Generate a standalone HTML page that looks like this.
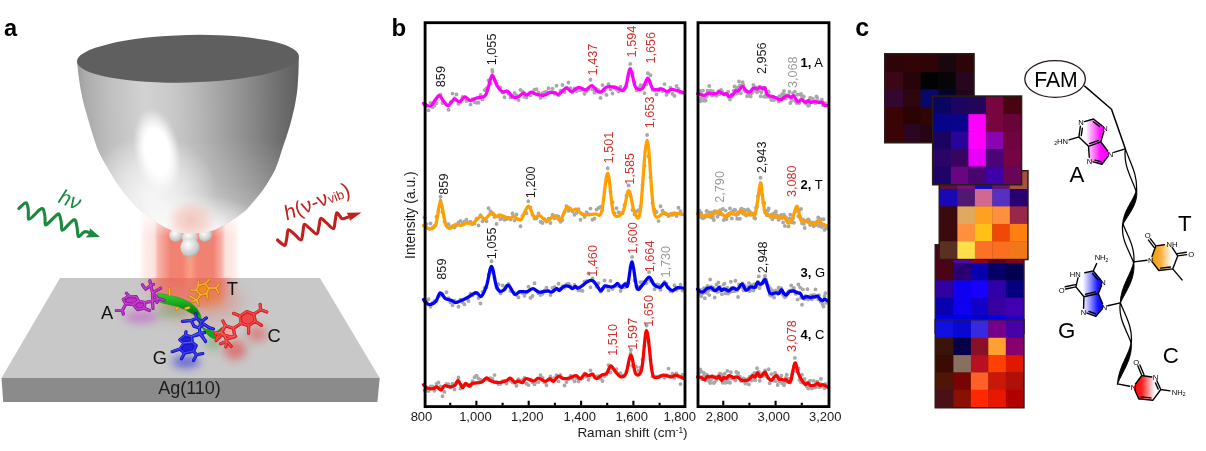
<!DOCTYPE html>
<html lang="en">
<head>
<meta charset="utf-8">
<title>Figure</title>
<style>
html,body{margin:0;padding:0;background:#fff;}
body{width:1206px;height:451px;overflow:hidden;font-family:"Liberation Sans",Arial,sans-serif;}
svg{display:block;}
</style>
</head>
<body>
<svg width="1206" height="451" viewBox="0 0 1206 451" font-family="'Liberation Sans', Arial, sans-serif">
<rect width="1206" height="451" fill="#fff"/>
<defs>
<linearGradient id="tipH" x1="0" y1="0" x2="1" y2="0">
<stop offset="0" stop-color="#9c9c9c"/><stop offset="0.04" stop-color="#acacac"/><stop offset="0.15" stop-color="#c0c0c0"/><stop offset="0.3" stop-color="#d2d2d2"/><stop offset="0.42" stop-color="#cacaca"/><stop offset="0.55" stop-color="#b6b6b6"/><stop offset="0.75" stop-color="#909090"/><stop offset="0.92" stop-color="#6c6c6c"/><stop offset="1" stop-color="#5e5e5e"/>
</linearGradient>
<radialGradient id="lowB" cx="0.5" cy="0.5" r="0.5">
<stop offset="0" stop-color="#fff" stop-opacity="0.95"/><stop offset="0.45" stop-color="#fff" stop-opacity="0.7"/><stop offset="0.75" stop-color="#fff" stop-opacity="0.3"/><stop offset="1" stop-color="#fff" stop-opacity="0"/>
</radialGradient>
<radialGradient id="lowL" cx="0.5" cy="0.5" r="0.5">
<stop offset="0" stop-color="#fff" stop-opacity="0.75"/><stop offset="0.5" stop-color="#fff" stop-opacity="0.45"/><stop offset="1" stop-color="#fff" stop-opacity="0"/>
</radialGradient>
<linearGradient id="tipV" gradientUnits="userSpaceOnUse" x1="0" y1="140" x2="0" y2="234">
<stop offset="0" stop-color="#fff" stop-opacity="0"/><stop offset="0.5" stop-color="#fff" stop-opacity="0.18"/><stop offset="1" stop-color="#fff" stop-opacity="0.5"/>
</linearGradient>
<radialGradient id="spec" cx="0.5" cy="0.5" r="0.5">
<stop offset="0" stop-color="#fff" stop-opacity="1"/><stop offset="0.52" stop-color="#fff" stop-opacity="1"/><stop offset="0.72" stop-color="#fff" stop-opacity="0.6"/><stop offset="0.88" stop-color="#fff" stop-opacity="0.2"/><stop offset="1" stop-color="#fff" stop-opacity="0"/>
</radialGradient>
<radialGradient id="rglow" cx="0.5" cy="0.5" r="0.5">
<stop offset="0" stop-color="#f2b0a4" stop-opacity="0.7"/><stop offset="0.5" stop-color="#f4b8ac" stop-opacity="0.5"/><stop offset="1" stop-color="#f8c0b4" stop-opacity="0"/>
</radialGradient>
<linearGradient id="colV" gradientUnits="userSpaceOnUse" x1="0" y1="205" x2="0" y2="310">
<stop offset="0" stop-color="#fff" stop-opacity="0"/><stop offset="0.3" stop-color="#fff" stop-opacity="1"/><stop offset="0.72" stop-color="#fff" stop-opacity="1"/><stop offset="0.85" stop-color="#fff" stop-opacity="0.55"/><stop offset="1" stop-color="#fff" stop-opacity="0"/>
</linearGradient>
<linearGradient id="colH" gradientUnits="userSpaceOnUse" x1="139" y1="0" x2="240" y2="0">
<stop offset="0" stop-color="#f4a094" stop-opacity="0"/><stop offset="0.06" stop-color="#f4a094" stop-opacity="0.2"/><stop offset="0.15" stop-color="#f4a094" stop-opacity="0.3"/><stop offset="0.19" stop-color="#f28c7c" stop-opacity="0.66"/><stop offset="0.31" stop-color="#f07c6c" stop-opacity="0.95"/><stop offset="0.43" stop-color="#f17e6c" stop-opacity="0.97"/><stop offset="0.505" stop-color="#f79c80" stop-opacity="0.97"/><stop offset="0.58" stop-color="#f17e6c" stop-opacity="0.97"/><stop offset="0.74" stop-color="#f07c6c" stop-opacity="0.95"/><stop offset="0.82" stop-color="#f28c7c" stop-opacity="0.66"/><stop offset="0.86" stop-color="#f4a094" stop-opacity="0.3"/><stop offset="0.95" stop-color="#f4a094" stop-opacity="0.2"/><stop offset="1" stop-color="#f4a094" stop-opacity="0"/>
</linearGradient>
<mask id="colM"><rect x="130" y="200" width="120" height="115" fill="url(#colV)"/></mask>
<radialGradient id="sph" cx="0.4" cy="0.35" r="0.72">
<stop offset="0" stop-color="#fdfdfd"/><stop offset="0.35" stop-color="#e6e6e6"/><stop offset="0.75" stop-color="#c6c6c6"/><stop offset="1" stop-color="#9c9c9c"/>
</radialGradient>
<linearGradient id="rib" gradientUnits="userSpaceOnUse" x1="0" y1="292" x2="0" y2="312">
<stop offset="0" stop-color="#35d235"/><stop offset="0.5" stop-color="#1cb01c"/><stop offset="1" stop-color="#0c7a0c"/>
</linearGradient>
<filter id="bl3" x="-150%" y="-150%" width="400%" height="400%"><feGaussianBlur stdDeviation="3"/></filter>
<filter id="bl5" x="-150%" y="-150%" width="400%" height="400%"><feGaussianBlur stdDeviation="4.5"/></filter>
<filter id="bl7" x="-150%" y="-150%" width="400%" height="400%"><feGaussianBlur stdDeviation="8"/></filter>
<filter id="bl1" x="-20%" y="-20%" width="140%" height="140%"><feGaussianBlur stdDeviation="0.5"/></filter>
<clipPath id="tipClip"><path id="tipP" d="M77.2,61.5C77.4,63.9 78,71.2 78.6,76C79.2,80.8 80,85.8 80.9,90.5C81.8,95.2 82.7,99.8 83.9,104.5C85.1,109.2 86.5,113.5 87.9,118.4C89.3,123.3 90.8,128.7 92.5,134C94.2,139.3 96.2,145.7 98,150C99.8,154.3 101.2,156.7 103,160C104.8,163.3 106.9,166.7 108.9,170C110.9,173.3 112.8,176.7 115,180C117.2,183.3 119.4,186.7 121.9,190C124.5,193.3 127.3,196.7 130.3,200C133.3,203.3 137.2,207.5 139.9,210C142.6,212.5 144.2,213.5 146.5,215.2C148.8,216.9 151.3,218.3 153.8,220C156.3,221.7 158.8,223.6 161.5,225.2C164.2,226.8 166.9,228.4 170,229.6C173.1,230.8 176.7,231.8 180,232.5C183.3,233.2 186.7,233.4 190,233.5C193.3,233.6 196.7,233.5 200,233.1C203.3,232.7 206.7,232.3 210,231.3C213.3,230.3 216.3,229.1 220,227.2C223.7,225.3 228.8,222 232,220C235.2,218 237.2,216.7 239.5,215C241.8,213.3 243.4,212.5 246,210C248.6,207.5 252,203.3 254.8,200C257.6,196.7 260.5,193.3 262.9,190C265.3,186.7 267.3,183.3 269.3,180C271.3,176.7 273.3,173.3 274.9,170C276.5,166.7 277.5,163.3 278.7,160C279.9,156.7 280.5,154.3 281.9,150C283.3,145.7 285.6,139.3 287.3,134C289,128.7 290.5,123.3 291.8,118.4C293.1,113.5 294.1,109.2 295,104.5C295.9,99.8 296.6,95.8 297.2,90.5C297.8,85.2 298.1,78.8 298.4,73C298.7,67.2 298.7,58.8 298.8,56Z"/></clipPath>
<clipPath id="plateClip"><path d="M60,278H320L379.7,378H1.5Z"/></clipPath>
</defs>
<g id="pa">
<path d="M1.5,378H379.7L377.4,402H3.2Z" fill="#8b8b8b"/>
<path d="M60,278H320L379.7,378H1.5Z" fill="#c8c8c8"/>
<g mask="url(#colM)"><rect x="138" y="200" width="103" height="115" fill="url(#colH)"/></g>
<g clip-path="url(#plateClip)">
<ellipse cx="190" cy="284" rx="40" ry="22" fill="#ea6a5a" opacity="0.55" filter="url(#bl5)"/>
<ellipse cx="200" cy="302" rx="42" ry="20" fill="#e87060" opacity="0.35" filter="url(#bl7)"/>
<ellipse cx="141" cy="317" rx="17" ry="6" fill="#c040c8" opacity="0.5" filter="url(#bl5)"/>
<ellipse cx="186" cy="362" rx="14" ry="6" fill="#2828e0" opacity="0.6" filter="url(#bl5)"/>
<ellipse cx="235" cy="350" rx="11" ry="10" fill="#e83838" opacity="0.55" filter="url(#bl5)"/>
<ellipse cx="257" cy="334" rx="10" ry="8" fill="#e83838" opacity="0.45" filter="url(#bl5)"/>
<ellipse cx="210" cy="298" rx="14" ry="9" fill="#f08030" opacity="0.45" filter="url(#bl5)"/>
<ellipse cx="172" cy="312" rx="16" ry="6" fill="#3c9c3c" opacity="0.35" filter="url(#bl5)"/>
<ellipse cx="213" cy="343" rx="8" ry="7" fill="#3c9c3c" opacity="0.4" filter="url(#bl5)"/>
</g>
<circle cx="176" cy="235.2" r="6.7" fill="url(#sph)"/>
<circle cx="205.3" cy="235.2" r="6.7" fill="url(#sph)"/>
<circle cx="190" cy="237.6" r="8" fill="url(#sph)"/>
<circle cx="190" cy="247.5" r="9.6" fill="url(#sph)"/>
<g clip-path="url(#tipClip)">
<g fill="url(#tipH)"><rect x="76.4" y="54" width="223.2" height="2.4"/><rect x="76.4" y="56" width="223.2" height="2.4"/><rect x="76.4" y="58" width="223.2" height="2.4"/><rect x="76.4" y="60" width="223.2" height="2.4"/><rect x="76.4" y="62" width="223.2" height="2.4"/><rect x="76.5" y="64" width="223.1" height="2.4"/><rect x="76.5" y="66" width="223.1" height="2.4"/><rect x="76.5" y="68" width="223.1" height="2.4"/><rect x="76.6" y="70" width="223" height="2.4"/><rect x="76.6" y="72" width="223" height="2.4"/><rect x="76.6" y="74" width="223" height="2.4"/><rect x="76.7" y="76" width="222.9" height="2.4"/><rect x="76.7" y="78" width="222.9" height="2.4"/><rect x="76.8" y="80" width="222.8" height="2.4"/><rect x="76.9" y="82" width="222.7" height="2.4"/><rect x="76.9" y="84" width="222.7" height="2.4"/><rect x="77" y="86" width="222.6" height="2.4"/><rect x="77.1" y="88" width="222.5" height="2.4"/><rect x="77.1" y="90" width="222.5" height="2.4"/><rect x="77.2" y="92" width="222.4" height="2.4"/><rect x="77.3" y="94" width="222.3" height="2.4"/><rect x="77.4" y="96" width="222.2" height="2.4"/><rect x="77.5" y="98" width="222.1" height="2.4"/><rect x="77.6" y="100" width="222" height="2.4"/><rect x="77.6" y="102" width="222" height="2.4"/><rect x="77.7" y="104" width="221.9" height="2.4"/><rect x="77.8" y="106" width="221.8" height="2.4"/><rect x="78" y="108" width="221.6" height="2.4"/><rect x="78.1" y="110" width="221.5" height="2.4"/><rect x="78.2" y="112" width="221.4" height="2.4"/><rect x="78.3" y="114" width="221.3" height="2.4"/><rect x="78.4" y="116" width="221.2" height="2.4"/><rect x="78.5" y="118" width="221.1" height="2.4"/><rect x="78.6" y="120" width="221" height="2.4"/><rect x="78.8" y="122" width="220.8" height="2.4"/><rect x="78.9" y="124" width="220.7" height="2.4"/><rect x="79" y="126" width="220.6" height="2.4"/><rect x="79.1" y="128" width="220.5" height="2.4"/><rect x="79.2" y="130" width="220.4" height="2.4"/><rect x="79.4" y="132" width="220.2" height="2.4"/><rect x="79.5" y="134" width="220.1" height="2.4"/><rect x="79.6" y="136" width="220" height="2.4"/><rect x="79.7" y="138" width="219.9" height="2.4"/><rect x="79.9" y="140" width="219.7" height="2.4"/><rect x="80" y="142" width="219.6" height="2.4"/><rect x="80.2" y="144" width="219.4" height="2.4"/><rect x="80.3" y="146" width="219.3" height="2.4"/><rect x="80.4" y="148" width="219.2" height="2.4"/><rect x="80.6" y="150" width="219" height="2.4"/><rect x="80.8" y="152" width="218.8" height="2.4"/><rect x="81" y="154" width="218.6" height="2.4"/><rect x="81.2" y="156" width="218.4" height="2.4"/><rect x="81.4" y="158" width="218.2" height="2.4"/><rect x="81.6" y="160" width="218" height="2.4"/><rect x="81.8" y="162" width="217.8" height="2.4"/><rect x="82.1" y="164" width="217.5" height="2.4"/><rect x="82.3" y="166" width="217.3" height="2.4"/><rect x="82.5" y="168" width="217.1" height="2.4"/><rect x="82.8" y="170" width="216.8" height="2.4"/><rect x="83" y="172" width="216.6" height="2.4"/><rect x="83.3" y="174" width="216.3" height="2.4"/><rect x="83.5" y="176" width="216.1" height="2.4"/><rect x="83.7" y="178" width="215.9" height="2.4"/><rect x="84" y="180" width="215.6" height="2.4"/><rect x="84.3" y="182" width="215.3" height="2.4"/><rect x="84.5" y="184" width="215.1" height="2.4"/><rect x="84.8" y="186" width="214.8" height="2.4"/><rect x="85.1" y="188" width="214.5" height="2.4"/><rect x="85.4" y="190" width="214.2" height="2.4"/><rect x="85.7" y="192" width="213.9" height="2.4"/><rect x="86" y="194" width="213.6" height="2.4"/><rect x="86.4" y="196" width="213.2" height="2.4"/><rect x="86.7" y="198" width="212.9" height="2.4"/><rect x="87.1" y="200" width="212.5" height="2.4"/><rect x="87.4" y="202" width="212.2" height="2.4"/><rect x="87.8" y="204" width="211.8" height="2.4"/><rect x="88.2" y="206" width="211.4" height="2.4"/><rect x="88.6" y="208" width="211" height="2.4"/><rect x="89" y="210" width="210.6" height="2.4"/><rect x="89.5" y="212" width="210.1" height="2.4"/><rect x="90" y="214" width="209.6" height="2.4"/><rect x="90.6" y="216" width="209" height="2.4"/><rect x="91.2" y="218" width="208.4" height="2.4"/><rect x="91.8" y="220" width="207.8" height="2.4"/><rect x="92.4" y="222" width="207.2" height="2.4"/><rect x="93" y="224" width="206.6" height="2.4"/><rect x="93.6" y="226" width="206" height="2.4"/><rect x="94.4" y="228" width="205.2" height="2.4"/><rect x="95.4" y="230" width="204.2" height="2.4"/><rect x="96.8" y="232" width="202.8" height="2.4"/></g>
<rect x="70" y="140" width="235" height="100" fill="url(#tipV)"/>
<ellipse cx="152" cy="196" rx="66" ry="62" fill="url(#lowL)"/>
<ellipse cx="194" cy="240" rx="80" ry="46" fill="url(#lowB)"/>
<ellipse cx="157" cy="151" rx="23" ry="44" fill="url(#spec)" transform="rotate(-11 157 151)"/>
<ellipse cx="191" cy="221" rx="26" ry="22" fill="url(#rglow)"/>
</g>
<ellipse cx="187.9" cy="58.8" rx="111" ry="23.8" fill="#5f5f5f" transform="rotate(-1.4 187.9 58.8)"/>
<path d="M157.5,293.2C158.5,293.3 161.3,293.7 163.3,294.1C165.3,294.4 167.5,294.9 169.5,295.4C171.6,295.9 173.8,296.3 175.7,296.8C177.7,297.3 179.4,297.9 181.1,298.5C182.8,299.1 184.5,299.9 185.9,300.6C187.4,301.2 188.7,301.7 189.9,302.5C191.2,303.3 192.4,304.3 193.5,305.2C194.5,306.1 195.3,306.9 196.1,307.8C197,308.8 197.7,309.8 198.4,310.9C199,312 199.8,313.9 200.1,314.5L195.3,315.8C194.8,315.5 193.6,314.6 192.6,314C191.6,313.5 190.7,312.9 189.5,312.3C188.3,311.6 186.9,310.8 185.5,310C184.1,309.3 182.5,308.6 181.1,308C179.6,307.4 178.1,306.9 176.6,306.5C175.1,306.1 173.7,305.7 172.2,305.3C170.7,305 169.4,304.7 167.7,304.3C166.1,303.9 164.1,303.4 162.4,303C160.7,302.5 158.4,301.8 157.5,301.6Z" fill="url(#rib)" stroke="#18a018" stroke-width="0.6"/>
<path d="M199.7,313.4C200.1,314.5 201.4,317.8 201.9,320.1C202.5,322.4 202.1,325.6 203.3,327.2C204.5,328.8 206.9,329.1 209,329.8C211.2,330.6 214,332 216.1,331.6C218.3,331.2 221.1,327.2 221.9,327.6C222.7,328.1 222.3,332.5 221,334.3C219.8,336.1 216.4,338.2 214.4,338.5C212.4,338.8 210.6,337.2 209,336.1C207.5,334.9 206.5,333.4 205,331.6C203.6,329.8 201.6,327.6 200.2,325.4C198.8,323.2 197.2,319.5 196.6,318.3Z" fill="#17a517" stroke="#0e800e" stroke-width="0.5"/>
<path d="M169.5,288.8L169.7,295M177.7,307.7L176.6,309.6M185.5,308.5L189,307.5M186,308.5L189.1,307.8M176.7,309.3L177.5,307.7" fill="none" stroke="#b87008" stroke-width="2.6" stroke-linecap="round" stroke-linejoin="round"/><path d="M169.5,288.8L169.7,295M177.7,307.7L176.6,309.6M185.5,308.5L189,307.5M186,308.5L189.1,307.8M176.7,309.3L177.5,307.7" fill="none" stroke="#f0a020" stroke-width="1.8" stroke-linecap="round" stroke-linejoin="round"/><path d="M169.5,288.8L169.7,295M177.7,307.7L176.6,309.6M185.5,308.5L189,307.5M186,308.5L189.1,307.8M176.7,309.3L177.5,307.7" fill="none" stroke="#ffd870" stroke-width="0.7" stroke-linecap="round" stroke-linejoin="round" transform="translate(-0.3,-0.35)" opacity="0.6"/>
<path d="M123.3,299.4L129.1,296.3L136.2,296.7L138.8,301.2L133.5,304.7L126,303.8Z" fill="#bc34c6"/><path d="M138.8,301.2L145,302.5L144.2,308.3L137.5,309.6L133.5,304.7Z" fill="#bc34c6"/><path d="M123.3,299.4L129.1,296.3L136.2,296.7L138.8,301.2L133.5,304.7L126,303.8ZM138.8,301.2L145,302.5L144.2,308.3L137.5,309.6L133.5,304.7ZM129.1,296.3L126.4,293.2M126,303.8L122.4,310.5L116.2,310.5M122.4,310.5L123.3,314M144.2,308.3L149.5,310.5M145,302.5L152.6,301.2L153,308.3M152.6,301.2L157.9,298.5L164.1,300.3M157.9,298.5L157,302.5M152.6,301.2L152.6,292.7L160.6,288.3M152.6,292.7L150.8,285.6L153.5,284.3M150.8,285.6L149.9,280.8M150.8,285.6L145.5,289.2L142.4,284.8M152.6,292.7L157.9,298.5" fill="none" stroke="#7c1488" stroke-width="3.2" stroke-linecap="round" stroke-linejoin="round"/><path d="M123.3,299.4L129.1,296.3L136.2,296.7L138.8,301.2L133.5,304.7L126,303.8ZM138.8,301.2L145,302.5L144.2,308.3L137.5,309.6L133.5,304.7ZM129.1,296.3L126.4,293.2M126,303.8L122.4,310.5L116.2,310.5M122.4,310.5L123.3,314M144.2,308.3L149.5,310.5M145,302.5L152.6,301.2L153,308.3M152.6,301.2L157.9,298.5L164.1,300.3M157.9,298.5L157,302.5M152.6,301.2L152.6,292.7L160.6,288.3M152.6,292.7L150.8,285.6L153.5,284.3M150.8,285.6L149.9,280.8M150.8,285.6L145.5,289.2L142.4,284.8M152.6,292.7L157.9,298.5" fill="none" stroke="#b024bc" stroke-width="2.4000000000000004" stroke-linecap="round" stroke-linejoin="round"/><path d="M123.3,299.4L129.1,296.3L136.2,296.7L138.8,301.2L133.5,304.7L126,303.8ZM138.8,301.2L145,302.5L144.2,308.3L137.5,309.6L133.5,304.7ZM129.1,296.3L126.4,293.2M126,303.8L122.4,310.5L116.2,310.5M122.4,310.5L123.3,314M144.2,308.3L149.5,310.5M145,302.5L152.6,301.2L153,308.3M152.6,301.2L157.9,298.5L164.1,300.3M157.9,298.5L157,302.5M152.6,301.2L152.6,292.7L160.6,288.3M152.6,292.7L150.8,285.6L153.5,284.3M150.8,285.6L149.9,280.8M150.8,285.6L145.5,289.2L142.4,284.8M152.6,292.7L157.9,298.5" fill="none" stroke="#e070ec" stroke-width="0.7" stroke-linecap="round" stroke-linejoin="round" transform="translate(-0.3,-0.35)" opacity="0.6"/>
<path d="M198.4,285.6L205,283.9L209,288.3L206.8,293.6L200.6,295L196.6,290.5Z" fill="#f08a20"/><path d="M198.4,285.6L205,283.9L209,288.3L206.8,293.6L200.6,295L196.6,290.5ZM198.4,285.6L198.4,281.2M205,283.9L209.9,279.4M196.6,290.5L190.8,290.1M209,288.3L216.1,288.3L219.2,283.9M216.1,288.3L218.8,293.6M206.8,293.6L207.7,298.1M200.6,295L197,300.3L189.5,295.9M197,300.3L191.7,301.6M197,300.3L198.8,305.2" fill="none" stroke="#b06808" stroke-width="2.7" stroke-linecap="round" stroke-linejoin="round"/><path d="M198.4,285.6L205,283.9L209,288.3L206.8,293.6L200.6,295L196.6,290.5ZM198.4,285.6L198.4,281.2M205,283.9L209.9,279.4M196.6,290.5L190.8,290.1M209,288.3L216.1,288.3L219.2,283.9M216.1,288.3L218.8,293.6M206.8,293.6L207.7,298.1M200.6,295L197,300.3L189.5,295.9M197,300.3L191.7,301.6M197,300.3L198.8,305.2" fill="none" stroke="#f09a18" stroke-width="1.9000000000000001" stroke-linecap="round" stroke-linejoin="round"/><path d="M198.4,285.6L205,283.9L209,288.3L206.8,293.6L200.6,295L196.6,290.5ZM198.4,285.6L198.4,281.2M205,283.9L209.9,279.4M196.6,290.5L190.8,290.1M209,288.3L216.1,288.3L219.2,283.9M216.1,288.3L218.8,293.6M206.8,293.6L207.7,298.1M200.6,295L197,300.3L189.5,295.9M197,300.3L191.7,301.6M197,300.3L198.8,305.2" fill="none" stroke="#ffd878" stroke-width="0.7" stroke-linecap="round" stroke-linejoin="round" transform="translate(-0.3,-0.35)" opacity="0.6"/>
<path d="M179.8,339.8L185.5,335.3L191.7,336.7L192.2,342.4L184.2,343.3Z" fill="#2020d8"/><path d="M184.2,343.3L192.2,342.4L196.2,345.5L193.5,351.3L184.6,353.1L179.8,349.1Z" fill="#2020d8"/><path d="M179.8,339.8L185.5,335.3L191.7,336.7L192.2,342.4L184.2,343.3ZM184.2,343.3L192.2,342.4L196.2,345.5L193.5,351.3L184.6,353.1L179.8,349.1ZM185.5,335.3L186,331.8M191.7,336.7L198.4,333.5L204.6,332.7M201.1,334L205.5,341.5M179.8,349.1L172.2,351.7M184.6,353.1L181.5,358.8M193.5,351.3L196.6,354.8L202.8,353.5M196.6,354.8L193.5,360.6M182.4,321.4L191.3,320.5L194,326.3M191.3,320.5L196.6,318.3L195.7,313.9M196.6,318.3L201.1,321.9L206.4,317.9M201.1,321.9L199.3,328.1L203.7,324.1M199.3,328.1L200.2,334.3L205.5,340.9M200.2,334.3L193.1,336.1M203.7,324.1L209,327.6L213.5,329M199.3,328.1L194,326.3" fill="none" stroke="#1010a0" stroke-width="3.2" stroke-linecap="round" stroke-linejoin="round"/><path d="M179.8,339.8L185.5,335.3L191.7,336.7L192.2,342.4L184.2,343.3ZM184.2,343.3L192.2,342.4L196.2,345.5L193.5,351.3L184.6,353.1L179.8,349.1ZM185.5,335.3L186,331.8M191.7,336.7L198.4,333.5L204.6,332.7M201.1,334L205.5,341.5M179.8,349.1L172.2,351.7M184.6,353.1L181.5,358.8M193.5,351.3L196.6,354.8L202.8,353.5M196.6,354.8L193.5,360.6M182.4,321.4L191.3,320.5L194,326.3M191.3,320.5L196.6,318.3L195.7,313.9M196.6,318.3L201.1,321.9L206.4,317.9M201.1,321.9L199.3,328.1L203.7,324.1M199.3,328.1L200.2,334.3L205.5,340.9M200.2,334.3L193.1,336.1M203.7,324.1L209,327.6L213.5,329M199.3,328.1L194,326.3" fill="none" stroke="#2020e0" stroke-width="2.4000000000000004" stroke-linecap="round" stroke-linejoin="round"/><path d="M179.8,339.8L185.5,335.3L191.7,336.7L192.2,342.4L184.2,343.3ZM184.2,343.3L192.2,342.4L196.2,345.5L193.5,351.3L184.6,353.1L179.8,349.1ZM185.5,335.3L186,331.8M191.7,336.7L198.4,333.5L204.6,332.7M201.1,334L205.5,341.5M179.8,349.1L172.2,351.7M184.6,353.1L181.5,358.8M193.5,351.3L196.6,354.8L202.8,353.5M196.6,354.8L193.5,360.6M182.4,321.4L191.3,320.5L194,326.3M191.3,320.5L196.6,318.3L195.7,313.9M196.6,318.3L201.1,321.9L206.4,317.9M201.1,321.9L199.3,328.1L203.7,324.1M199.3,328.1L200.2,334.3L205.5,340.9M200.2,334.3L193.1,336.1M203.7,324.1L209,327.6L213.5,329M199.3,328.1L194,326.3" fill="none" stroke="#7880ff" stroke-width="0.7" stroke-linecap="round" stroke-linejoin="round" transform="translate(-0.3,-0.35)" opacity="0.6"/>
<path d="M233.5,328.4L225.5,325.7L221.5,332.8L226.9,339L234.8,336.8Z" fill="#f4a8a8"/>
<path d="M240.2,316L246.8,311.5L253.9,314.2L255.3,321.3L248.6,325.7L241.1,323.5Z" fill="#f04848"/><path d="M240.2,316L246.8,311.5L253.9,314.2L255.3,321.3L248.6,325.7L241.1,323.5ZM233.5,328.4L225.5,325.7L221.5,332.8L226.9,339L234.8,336.8ZM240.2,316L233.5,313.3M253.9,314.2L260.6,309.8L260.1,304.4M260.6,309.8L266.8,312M255.3,321.3L261.5,325.3M248.6,325.7L248.6,333.3M241.1,323.5L233.5,328.4M225.5,325.7L222.9,320.9M221.5,332.8L215.3,333.7M225.5,325.7L216.2,339M215.3,333.5L219.7,332.2L225,335.3L231.2,337.1L235.7,336.2M216.1,340.6L223.2,333.5M220.6,343.8L226.8,341.5L231.2,346.4M226.8,341.5L225.9,346.9M226.8,341.5L225,335.3" fill="none" stroke="#b01818" stroke-width="3.2" stroke-linecap="round" stroke-linejoin="round"/><path d="M240.2,316L246.8,311.5L253.9,314.2L255.3,321.3L248.6,325.7L241.1,323.5ZM233.5,328.4L225.5,325.7L221.5,332.8L226.9,339L234.8,336.8ZM240.2,316L233.5,313.3M253.9,314.2L260.6,309.8L260.1,304.4M260.6,309.8L266.8,312M255.3,321.3L261.5,325.3M248.6,325.7L248.6,333.3M241.1,323.5L233.5,328.4M225.5,325.7L222.9,320.9M221.5,332.8L215.3,333.7M225.5,325.7L216.2,339M215.3,333.5L219.7,332.2L225,335.3L231.2,337.1L235.7,336.2M216.1,340.6L223.2,333.5M220.6,343.8L226.8,341.5L231.2,346.4M226.8,341.5L225.9,346.9M226.8,341.5L225,335.3" fill="none" stroke="#ea2c2c" stroke-width="2.4000000000000004" stroke-linecap="round" stroke-linejoin="round"/><path d="M240.2,316L246.8,311.5L253.9,314.2L255.3,321.3L248.6,325.7L241.1,323.5ZM233.5,328.4L225.5,325.7L221.5,332.8L226.9,339L234.8,336.8ZM240.2,316L233.5,313.3M253.9,314.2L260.6,309.8L260.1,304.4M260.6,309.8L266.8,312M255.3,321.3L261.5,325.3M248.6,325.7L248.6,333.3M241.1,323.5L233.5,328.4M225.5,325.7L222.9,320.9M221.5,332.8L215.3,333.7M225.5,325.7L216.2,339M215.3,333.5L219.7,332.2L225,335.3L231.2,337.1L235.7,336.2M216.1,340.6L223.2,333.5M220.6,343.8L226.8,341.5L231.2,346.4M226.8,341.5L225.9,346.9M226.8,341.5L225,335.3" fill="none" stroke="#ff8888" stroke-width="0.7" stroke-linecap="round" stroke-linejoin="round" transform="translate(-0.3,-0.35)" opacity="0.6"/>
<g font-size="18.3" fill="#111" text-anchor="middle">
<text x="107" y="318.6">A</text>
<text x="232.3" y="294.7">T</text>
<text x="159.8" y="364.4">G</text>
<text x="274.2" y="341.8">C</text>
<text x="189.5" y="393.6" font-size="18" fill="#1c1c1c">Ag(110)</text>
</g>
<path d="M18.8,208.6C19.5,208 21.4,205.8 22.6,204.9C23.9,203.9 25.4,202 26.4,202.9C27.3,203.8 28,207.4 28.3,210.2C28.7,212.9 27.7,218.3 28.6,219.2C29.6,220.1 32.1,217 33.9,215.4C35.7,213.9 38,210.9 39.5,209.9C41,208.8 42.1,207.9 43,208.9C43.9,210 44.5,213.5 44.9,216.2C45.4,218.8 44.6,224.1 45.5,224.9C46.5,225.7 48.7,222.6 50.5,221C52.3,219.4 54.6,216.5 56.1,215.4C57.5,214.3 58.4,213.3 59.2,214.4C60.1,215.5 60.7,219.3 61.2,221.9C61.7,224.5 61.1,229.5 62.1,230.2C63.1,230.9 65.4,227.6 67.1,226C68.8,224.4 71,221.6 72.4,220.7C73.7,219.8 74.6,219.1 75.4,220.4C76.2,221.7 76.7,225.6 77.2,228.2C77.7,230.9 77.4,235.8 78.4,236.5C79.4,237.3 81.7,233.6 82.9,232.8C84.2,231.9 84.7,231.5 85.9,231.6C87.2,231.6 89.7,232.8 90.5,233.1" fill="none" stroke="#1a8a3e" stroke-width="3.1" stroke-linecap="round" stroke-linejoin="round"/>
<path d="M89.9,228.2L100.1,237L85.6,237.4L89.3,233.5Z" fill="#1a8a3e"/>
<path d="M277.5,240C278.2,240.6 280.5,242.8 281.8,243.7C283,244.6 284.2,246.2 285.1,245.2C285.9,244.2 286.3,240.3 286.9,237.7C287.4,235.1 287.2,230.3 288.4,229.7C289.6,229.1 292,232.2 294.1,233.9C296.2,235.6 299.4,240.2 300.9,240C302.4,239.7 302.3,235 302.9,232.4C303.4,229.8 303.2,225.1 304.4,224.4C305.6,223.8 307.9,227.1 310,228.6C312,230.2 315.2,234.3 316.7,233.9C318.2,233.5 318.3,229 319,226.4C319.7,223.8 319.6,219 320.8,218.4C322.1,217.8 324.4,221.2 326.5,222.9C328.6,224.6 331.9,228.9 333.3,228.6C334.8,228.3 334.6,223.7 335.1,221.1C335.7,218.5 335.9,214 336.6,213.1C337.4,212.2 338.7,214.9 339.7,215.8C340.6,216.8 340.9,218.7 342.4,218.8C343.8,219 347.4,217.2 348.4,216.9" fill="none" stroke="#c0201e" stroke-width="3.1" stroke-linecap="round" stroke-linejoin="round"/>
<path d="M346.6,212.7L361.4,212.4L349.9,220.7L349,216.6Z" fill="#c0201e"/>
<text transform="translate(57.2,202.2) rotate(21)" font-size="21" font-style="italic" fill="#1a8a3e">hν</text>
<text transform="translate(287.1,220.6) rotate(-21.5)" font-size="20.6" fill="#c0201e"><tspan font-style="italic">h</tspan>(ν-ν<tspan font-size="13">vib</tspan>)</text>
<text x="4" y="35.8" font-size="23.6" font-weight="bold" fill="#000">a</text>
<text x="391.4" y="35.8" font-size="24" font-weight="bold" fill="#000">b</text>
</g>
<g id="pb" font-family="'Liberation Sans', Arial, sans-serif">
<path d="M424.5,105.1h0M426.5,105.9h0M428.5,110.2h0M430.5,102.9h0M432.5,107.2h0M434.5,105.7h0M436.5,103.3h0M438.5,96h0M440.5,94.8h0M442.5,103h0M444.5,102.5h0M446.5,104.6h0M448.5,109.7h0M450.5,102.2h0M452.5,93.6h0M454.5,98.1h0M456.5,94.4h0M458.5,103.9h0M460.5,101.7h0M462.5,97h0M464.5,97.1h0M466.5,100.9h0M468.5,99.8h0M470.5,104.6h0M472.5,99.3h0M474.5,102.1h0M476.5,102.8h0M478.5,102.7h0M480.5,94.9h0M482.5,99.4h0M484.5,90.1h0M486.5,88.3h0M488.5,80.4h0M490.5,83.8h0M492.5,71.7h0M494.5,80h0M496.5,83.8h0M498.5,87.1h0M500.5,87.6h0M502.5,92.4h0M504.5,97.2h0M506.5,91.4h0M508.5,93.9h0M510.5,97.6h0M512.5,95.9h0M514.5,93h0M516.5,95.2h0M518.5,100.1h0M520.5,89.9h0M522.5,91.8h0M524.5,96.9h0M526.5,97.5h0M528.5,94.1h0M530.5,95.3h0M532.5,93.2h0M534.5,89.7h0M536.5,89.3h0M538.5,92.7h0M540.5,97.9h0M542.5,93.3h0M544.5,92.3h0M546.5,91.7h0M548.5,88.3h0M550.5,92.2h0M552.5,88.8h0M554.5,93.8h0M556.5,85.8h0M558.5,95.3h0M560.5,90.7h0M562.5,85h0M564.5,92h0M566.5,87.4h0M568.5,82.5h0M570.5,88.2h0M572.5,92.1h0M574.5,88.4h0M576.5,91.2h0M578.5,89.8h0M580.5,90.1h0M582.5,89.8h0M584.5,93.7h0M586.5,91.4h0M588.5,89.4h0M590.5,79.8h0M592.5,89.2h0M594.5,92.5h0M596.5,89.3h0M598.5,90.2h0M600.5,97.9h0M602.5,85.1h0M604.5,90.5h0M606.5,94.9h0M608.5,84.2h0M610.5,89.5h0M612.5,93.5h0M614.5,87.2h0M616.5,89.6h0M618.5,91.6h0M620.5,86.7h0M622.5,90.2h0M624.5,88.6h0M626.5,86.3h0M628.5,75.8h0M630.5,69h0M632.5,73.3h0M634.5,82.3h0M636.5,90.3h0M638.5,88h0M640.5,85.2h0M642.5,85.5h0M644.5,93.1h0M646.5,84.5h0M648.5,81.5h0M650.5,75.3h0M652.5,89.7h0M654.5,90.5h0M656.5,94.4h0M658.5,90.4h0M660.5,88.8h0M662.5,91h0M664.5,84.1h0M666.5,94.7h0M668.5,92h0M670.5,87.7h0M672.5,93.9h0M674.5,95.9h0M676.5,86h0M678.5,88.9h0M680.5,92.6h0M682.5,92.9h0M492.2,70h0M630.3,63.9h0M647.9,73.2h0M698.5,92.6h0M699.4,90.9h0M700.3,101.3h0M701.2,98h0M702.1,90.9h0M703,90.6h0M703.9,100.8h0M704.8,98.5h0M705.7,100.6h0M706.6,96.6h0M707.5,90.6h0M708.4,94.1h0M709.3,86h0M710.2,90.8h0M711.1,93.4h0M712,95.5h0M712.9,91.3h0M713.8,93.2h0M714.7,95.1h0M715.6,94.9h0M716.5,95.7h0M717.4,93.7h0M718.3,91.3h0M719.2,94.4h0M720.1,92.4h0M721,90h0M721.9,91.1h0M722.8,93.7h0M723.7,93.8h0M724.6,94.6h0M725.5,93.8h0M726.4,94.3h0M727.3,94.3h0M728.2,91.7h0M729.1,97.7h0M730,99.5h0M730.9,97.2h0M731.8,94.5h0M732.7,96h0M733.6,90.6h0M734.5,86.4h0M735.4,91.6h0M736.3,87.7h0M737.2,93.3h0M738.1,87.4h0M739,81.5h0M739.9,85.7h0M740.8,93.3h0M741.7,85.8h0M742.6,82.2h0M743.5,85.2h0M744.4,90.4h0M745.3,91.3h0M746.2,91.1h0M747.1,96.2h0M748,94.4h0M748.9,91.8h0M749.8,93.6h0M750.7,96.5h0M751.6,93.2h0M752.5,92.2h0M753.4,84.9h0M754.3,87.8h0M755.2,90.6h0M756.1,87.5h0M757,92.3h0M757.9,90.6h0M758.8,91.1h0M759.7,86.8h0M760.6,96.2h0M761.5,92.3h0M762.4,87.9h0M763.3,88.7h0M764.2,96.7h0M765.1,87.9h0M766,94.2h0M766.9,96.8h0M767.8,94.7h0M768.7,91.5h0M769.6,96.7h0M770.5,97.4h0M771.4,100h0M772.3,99.1h0M773.2,96.9h0M774.1,100h0M775,99.3h0M775.9,98.5h0M776.8,98.3h0M777.7,97.9h0M778.6,101.5h0M779.5,96.1h0M780.4,97.5h0M781.3,99.5h0M782.2,94.1h0M783.1,96.8h0M784,90.9h0M784.9,94.7h0M785.8,98.2h0M786.7,97.9h0M787.6,95.9h0M788.5,95.3h0M789.4,91.8h0M790.3,103h0M791.2,99h0M792.1,100.3h0M793,93.1h0M793.9,95.7h0M794.8,91.6h0M795.7,101.5h0M796.6,103.1h0M797.5,94.8h0M798.4,101.7h0M799.3,103.1h0M800.2,94.4h0M801.1,93.9h0M802,96.7h0M802.9,98.4h0M803.8,96.5h0M804.7,101.9h0M805.6,103.1h0M806.5,103.7h0M807.4,103.2h0M808.3,105.7h0M809.2,105.3h0M810.1,97.8h0M811,100.6h0M811.9,98.7h0M812.8,98.6h0M813.7,101.5h0M814.6,101.5h0M815.5,103h0M816.4,96.5h0M817.3,98h0M818.2,102.2h0M819.1,101.8h0M820,101.5h0M820.9,102.2h0M821.8,99.8h0M822.7,105.1h0M823.6,105h0M824.5,104.7h0M825.4,103.1h0M826.3,104.8h0M424.5,217.4h0M426.5,224.1h0M428.5,228.5h0M430.5,223.5h0M432.5,227.6h0M434.5,226h0M436.5,216.8h0M438.5,210.7h0M440.5,200.8h0M442.5,212.2h0M444.5,221.6h0M446.5,224.8h0M448.5,224.3h0M450.5,227.5h0M452.5,226.3h0M454.5,227.5h0M456.5,225.3h0M458.5,222.5h0M460.5,221h0M462.5,223.7h0M464.5,221.7h0M466.5,219.6h0M468.5,222.6h0M470.5,221.8h0M472.5,224h0M474.5,223.6h0M476.5,218.7h0M478.5,225.5h0M480.5,215.2h0M482.5,221.2h0M484.5,219.5h0M486.5,221.3h0M488.5,208.2h0M490.5,211.5h0M492.5,214.1h0M494.5,217.1h0M496.5,224h0M498.5,216.5h0M500.5,219.3h0M502.5,218.4h0M504.5,219.7h0M506.5,219h0M508.5,217.6h0M510.5,219.5h0M512.5,213.4h0M514.5,220.5h0M516.5,214.4h0M518.5,219.4h0M520.5,226.3h0M522.5,215.9h0M524.5,213.1h0M526.5,213.2h0M528.5,206.7h0M530.5,207.7h0M532.5,214.9h0M534.5,218.5h0M536.5,218.6h0M538.5,213.5h0M540.5,221.8h0M542.5,223h0M544.5,219.3h0M546.5,221.6h0M548.5,218.6h0M550.5,223h0M552.5,214.7h0M554.5,218.3h0M556.5,215.9h0M558.5,216.4h0M560.5,221.7h0M562.5,220h0M564.5,211.9h0M566.5,206.1h0M568.5,210.8h0M570.5,209.3h0M572.5,211.4h0M574.5,214.7h0M576.5,213h0M578.5,209.3h0M580.5,219.8h0M582.5,214.1h0M584.5,217h0M586.5,212.3h0M588.5,214.1h0M590.5,208.6h0M592.5,219.8h0M594.5,218.4h0M596.5,209.6h0M598.5,208h0M600.5,207h0M602.5,209.9h0M604.5,192h0M606.5,180.6h0M608.5,177.6h0M610.5,191.8h0M612.5,202.3h0M614.5,213.1h0M616.5,208.2h0M618.5,212.2h0M620.5,213.1h0M622.5,213.4h0M624.5,205.2h0M626.5,195.7h0M628.5,191.7h0M630.5,195.8h0M632.5,210h0M634.5,214.3h0M636.5,211.4h0M638.5,210.3h0M640.5,206.4h0M642.5,184.9h0M644.5,165.9h0M646.5,147.2h0M648.5,156.2h0M650.5,177.2h0M652.5,202.9h0M654.5,209.6h0M656.5,212h0M658.5,221.1h0M660.5,206.3h0M662.5,210.8h0M664.5,213.3h0M666.5,214.3h0M668.5,216.1h0M670.5,214h0M672.5,214.9h0M674.5,213.5h0M676.5,216.1h0M678.5,207.8h0M680.5,211.3h0M682.5,214.4h0M440.5,196.8h0M528.3,201.2h0M607.7,168.2h0M628.7,185.5h0M647.1,135h0M698.5,210.5h0M699.4,210.8h0M700.3,216.7h0M701.2,213h0M702.1,217.8h0M703,218.2h0M703.9,216.8h0M704.8,217.4h0M705.7,215.3h0M706.6,211h0M707.5,215.2h0M708.4,216.2h0M709.3,212.4h0M710.2,214.1h0M711.1,217.4h0M712,212.5h0M712.9,216.7h0M713.8,220h0M714.7,211.3h0M715.6,213h0M716.5,211.4h0M717.4,216.7h0M718.3,212.5h0M719.2,214.4h0M720.1,210.1h0M721,213.3h0M721.9,214.1h0M722.8,208.9h0M723.7,220.1h0M724.6,218.9h0M725.5,210.6h0M726.4,219.2h0M727.3,215h0M728.2,215.7h0M729.1,214.7h0M730,208.5h0M730.9,212.8h0M731.8,218.5h0M732.7,211.9h0M733.6,210.7h0M734.5,209.6h0M735.4,210.1h0M736.3,215h0M737.2,218.8h0M738.1,214h0M739,212.8h0M739.9,218.7h0M740.8,209.1h0M741.7,208.8h0M742.6,212.9h0M743.5,213.7h0M744.4,209.9h0M745.3,210.7h0M746.2,215.5h0M747.1,215h0M748,209.4h0M748.9,212.8h0M749.8,211.4h0M750.7,214.9h0M751.6,213.6h0M752.5,214.2h0M753.4,213.4h0M754.3,218h0M755.2,218.5h0M756.1,207.8h0M757,206.8h0M757.9,196.3h0M758.8,193.5h0M759.7,190.2h0M760.6,188.5h0M761.5,188.2h0M762.4,195.3h0M763.3,202.4h0M764.2,203h0M765.1,212h0M766,210.7h0M766.9,215.2h0M767.8,210.9h0M768.7,208.5h0M769.6,215.6h0M770.5,216.9h0M771.4,214.7h0M772.3,219.4h0M773.2,214.9h0M774.1,213.1h0M775,217.2h0M775.9,211.4h0M776.8,215.1h0M777.7,217.2h0M778.6,219.9h0M779.5,216.5h0M780.4,218.1h0M781.3,214.9h0M782.2,218h0M783.1,222.4h0M784,214.7h0M784.9,225.9h0M785.8,217.2h0M786.7,220.6h0M787.6,222.3h0M788.5,226.4h0M789.4,218.4h0M790.3,214.6h0M791.2,222.4h0M792.1,221h0M793,218.4h0M793.9,222.7h0M794.8,212.2h0M795.7,209.8h0M796.6,209.5h0M797.5,209.7h0M798.4,216.2h0M799.3,210.3h0M800.2,216.9h0M801.1,208.9h0M802,223.2h0M802.9,219.5h0M803.8,223.9h0M804.7,228h0M805.6,221h0M806.5,220.6h0M807.4,220.3h0M808.3,219.5h0M809.2,220.5h0M810.1,225.1h0M811,223.1h0M811.9,223.2h0M812.8,222.4h0M813.7,226.3h0M814.6,225.3h0M815.5,222.9h0M816.4,224.7h0M817.3,221.1h0M818.2,217.5h0M819.1,226.1h0M820,222.9h0M820.9,219.3h0M821.8,227h0M822.7,225.3h0M823.6,219.2h0M824.5,229.9h0M825.4,226.1h0M826.3,228.4h0M760.5,177.8h0M424.5,301.2h0M426.5,301.9h0M428.5,299.3h0M430.5,306.8h0M432.5,302.9h0M434.5,301h0M436.5,301.1h0M438.5,296.4h0M440.5,295.4h0M442.5,294.3h0M444.5,297.6h0M446.5,292.2h0M448.5,298.3h0M450.5,302.4h0M452.5,305.3h0M454.5,300.8h0M456.5,302.1h0M458.5,306.7h0M460.5,299.7h0M462.5,302.3h0M464.5,304.4h0M466.5,298.3h0M468.5,301h0M470.5,293.6h0M472.5,295.4h0M474.5,293.3h0M476.5,293.3h0M478.5,298h0M480.5,303.5h0M482.5,291.8h0M484.5,288h0M486.5,287.4h0M488.5,274.7h0M490.5,271.8h0M492.5,272.2h0M494.5,277.7h0M496.5,287.8h0M498.5,284.3h0M500.5,293.4h0M502.5,285.4h0M504.5,287.2h0M506.5,285.6h0M508.5,283.9h0M510.5,290.9h0M512.5,291.4h0M514.5,292.9h0M516.5,295.1h0M518.5,297.4h0M520.5,291.7h0M522.5,292.9h0M524.5,295.7h0M526.5,292.6h0M528.5,286.8h0M530.5,297.9h0M532.5,296h0M534.5,283.2h0M536.5,290.6h0M538.5,293.2h0M540.5,295.1h0M542.5,293.8h0M544.5,290.5h0M546.5,287.7h0M548.5,291.4h0M550.5,295.1h0M552.5,288h0M554.5,286.9h0M556.5,288.8h0M558.5,283.7h0M560.5,288.6h0M562.5,286.2h0M564.5,287.8h0M566.5,284.2h0M568.5,283.6h0M570.5,286.1h0M572.5,288.5h0M574.5,284.9h0M576.5,287.3h0M578.5,290.2h0M580.5,290.4h0M582.5,290.9h0M584.5,281.5h0M586.5,281.1h0M588.5,273.5h0M590.5,287.2h0M592.5,278.4h0M594.5,282.6h0M596.5,286.7h0M598.5,283.3h0M600.5,291.8h0M602.5,288.8h0M604.5,280.5h0M606.5,287.1h0M608.5,290.4h0M610.5,280.9h0M612.5,289.1h0M614.5,286.6h0M616.5,285.9h0M618.5,285.9h0M620.5,291h0M622.5,285.7h0M624.5,287.2h0M626.5,283.2h0M628.5,283.3h0M630.5,267.8h0M632.5,263.7h0M634.5,280.3h0M636.5,286.9h0M638.5,286.8h0M640.5,282.3h0M642.5,282.2h0M644.5,283.1h0M646.5,283.1h0M648.5,279.2h0M650.5,280.9h0M652.5,282.2h0M654.5,289.2h0M656.5,284.5h0M658.5,284.9h0M660.5,289.7h0M662.5,285.1h0M664.5,282h0M666.5,283.8h0M668.5,287.2h0M670.5,291.3h0M672.5,291.6h0M674.5,285.5h0M676.5,289.7h0M678.5,288.3h0M680.5,284.7h0M682.5,290.6h0M491.5,261.3h0M632.1,256.9h0M649.1,272.1h0M698.5,289.2h0M699.4,289.9h0M700.3,294.2h0M701.2,296.2h0M702.1,289.9h0M703,293.2h0M703.9,288.3h0M704.8,298.3h0M705.7,288.1h0M706.6,292.7h0M707.5,286h0M708.4,290.7h0M709.3,295.1h0M710.2,279.5h0M711.1,286.5h0M712,289.8h0M712.9,288.8h0M713.8,287.8h0M714.7,297.5h0M715.6,290.5h0M716.5,284.6h0M717.4,292h0M718.3,282.5h0M719.2,291.3h0M720.1,286.7h0M721,290.2h0M721.9,294.3h0M722.8,290h0M723.7,284.4h0M724.6,283.6h0M725.5,293.4h0M726.4,292.2h0M727.3,287.6h0M728.2,293.6h0M729.1,292.3h0M730,292h0M730.9,281.7h0M731.8,287.7h0M732.7,291.2h0M733.6,290.3h0M734.5,291.3h0M735.4,280.8h0M736.3,289.7h0M737.2,290.5h0M738.1,297h0M739,284.5h0M739.9,285.4h0M740.8,285.5h0M741.7,287.1h0M742.6,283.4h0M743.5,290.2h0M744.4,285.3h0M745.3,290.3h0M746.2,288h0M747.1,290.1h0M748,287h0M748.9,283.1h0M749.8,291.1h0M750.7,288h0M751.6,285.2h0M752.5,287.8h0M753.4,290.5h0M754.3,284.1h0M755.2,286.8h0M756.1,287.1h0M757,285.2h0M757.9,281.6h0M758.8,276.4h0M759.7,288.1h0M760.6,284.9h0M761.5,283.6h0M762.4,282.2h0M763.3,282.7h0M764.2,279.2h0M765.1,276h0M766,279.5h0M766.9,282.5h0M767.8,285.2h0M768.7,286.3h0M769.6,294.7h0M770.5,288.8h0M771.4,295.8h0M772.3,290.4h0M773.2,294.5h0M774.1,297.6h0M775,293.6h0M775.9,290.5h0M776.8,293h0M777.7,293.6h0M778.6,287.6h0M779.5,290.8h0M780.4,291.9h0M781.3,288.3h0M782.2,291h0M783.1,294.7h0M784,296.2h0M784.9,297.2h0M785.8,296.6h0M786.7,293.6h0M787.6,293.4h0M788.5,291.6h0M789.4,290.9h0M790.3,291h0M791.2,285.5h0M792.1,290h0M793,290.9h0M793.9,287.9h0M794.8,291.5h0M795.7,293.8h0M796.6,291.9h0M797.5,299.6h0M798.4,284.5h0M799.3,292.7h0M800.2,287.6h0M801.1,297.7h0M802,304.8h0M802.9,289.4h0M803.8,298.1h0M804.7,299h0M805.6,295.9h0M806.5,298.6h0M807.4,289.3h0M808.3,299.6h0M809.2,298.4h0M810.1,297.6h0M811,295.4h0M811.9,299.2h0M812.8,295.2h0M813.7,297.6h0M814.6,295.2h0M815.5,289.4h0M816.4,296.4h0M817.3,296.8h0M818.2,299.4h0M819.1,295.1h0M820,299h0M820.9,301.8h0M821.8,300.9h0M822.7,304.6h0M823.6,306.5h0M824.5,296.3h0M825.4,293.2h0M826.3,302.9h0M424.5,390.5h0M426.5,390.1h0M428.5,391h0M430.5,386.5h0M432.5,386.4h0M434.5,390.8h0M436.5,384h0M438.5,382.5h0M440.5,386.5h0M442.5,396.2h0M444.5,391.9h0M446.5,384h0M448.5,384.3h0M450.5,387.4h0M452.5,383.6h0M454.5,389.6h0M456.5,382.7h0M458.5,377.5h0M460.5,388.5h0M462.5,385.5h0M464.5,385.5h0M466.5,384.1h0M468.5,384.7h0M470.5,386.1h0M472.5,381.3h0M474.5,377.2h0M476.5,375.8h0M478.5,378.5h0M480.5,379.9h0M482.5,381.1h0M484.5,379.7h0M486.5,379.7h0M488.5,379.6h0M490.5,378.1h0M492.5,379h0M494.5,375.1h0M496.5,382h0M498.5,384h0M500.5,383.7h0M502.5,381.3h0M504.5,380.7h0M506.5,383.6h0M508.5,379.4h0M510.5,380.8h0M512.5,382.2h0M514.5,382.8h0M516.5,385.7h0M518.5,379.3h0M520.5,380.8h0M522.5,380.1h0M524.5,377.9h0M526.5,383.8h0M528.5,385.1h0M530.5,380.1h0M532.5,382.4h0M534.5,384.4h0M536.5,381.9h0M538.5,382.1h0M540.5,375.1h0M542.5,378h0M544.5,382.4h0M546.5,385.2h0M548.5,379.7h0M550.5,376.5h0M552.5,379.5h0M554.5,378.1h0M556.5,375.3h0M558.5,381.4h0M560.5,375h0M562.5,378.1h0M564.5,385.5h0M566.5,382.1h0M568.5,379.1h0M570.5,375.6h0M572.5,378.2h0M574.5,381.4h0M576.5,378h0M578.5,381.4h0M580.5,378.9h0M582.5,378.1h0M584.5,373.7h0M586.5,376.2h0M588.5,379.8h0M590.5,370.4h0M592.5,374.2h0M594.5,377.3h0M596.5,376.7h0M598.5,376.2h0M600.5,378.4h0M602.5,381h0M604.5,376.1h0M606.5,374.5h0M608.5,365.1h0M610.5,372.4h0M612.5,368.3h0M614.5,370.4h0M616.5,369.1h0M618.5,374.5h0M620.5,373.2h0M622.5,375.9h0M624.5,375.9h0M626.5,371.6h0M628.5,364.9h0M630.5,353.8h0M632.5,365.8h0M634.5,367h0M636.5,366.9h0M638.5,370.8h0M640.5,367.5h0M642.5,359.6h0M644.5,345.9h0M646.5,332.2h0M648.5,341.2h0M650.5,359.7h0M652.5,376.4h0M654.5,377.5h0M656.5,376.8h0M658.5,377.1h0M660.5,375.7h0M662.5,375.4h0M664.5,377.7h0M666.5,375.5h0M668.5,368.6h0M670.5,376.6h0M672.5,373.7h0M674.5,377.8h0M676.5,373.5h0M678.5,376.8h0M680.5,384.1h0M682.5,374.6h0M630.9,350h0M646.6,325.5h0M698.5,373.3h0M699.4,372.5h0M700.3,369.4h0M701.2,371.5h0M702.1,379.2h0M703,376.5h0M703.9,373h0M704.8,374.7h0M705.7,380.4h0M706.6,374.7h0M707.5,375.4h0M708.4,377.8h0M709.3,381.3h0M710.2,383.1h0M711.1,379.8h0M712,376.6h0M712.9,377.2h0M713.8,383h0M714.7,382.1h0M715.6,376.8h0M716.5,379.7h0M717.4,378.6h0M718.3,377h0M719.2,374.6h0M720.1,373.5h0M721,377.8h0M721.9,374.9h0M722.8,382.8h0M723.7,379.4h0M724.6,373.7h0M725.5,382.7h0M726.4,381.2h0M727.3,370.9h0M728.2,382.2h0M729.1,378.4h0M730,382.8h0M730.9,372.2h0M731.8,378.4h0M732.7,378.6h0M733.6,378.3h0M734.5,377.9h0M735.4,380.5h0M736.3,372h0M737.2,373.1h0M738.1,372.9h0M739,376.3h0M739.9,376.9h0M740.8,380.8h0M741.7,380.9h0M742.6,380.6h0M743.5,378.4h0M744.4,379h0M745.3,383.5h0M746.2,382.8h0M747.1,380.5h0M748,379h0M748.9,384.4h0M749.8,376.6h0M750.7,379.9h0M751.6,380.6h0M752.5,375h0M753.4,378.8h0M754.3,372.9h0M755.2,380.2h0M756.1,375.9h0M757,368.3h0M757.9,375.6h0M758.8,372h0M759.7,380.8h0M760.6,374.1h0M761.5,375.1h0M762.4,375.8h0M763.3,372.9h0M764.2,373.9h0M765.1,370.4h0M766,376.1h0M766.9,375.7h0M767.8,377.7h0M768.7,369.2h0M769.6,383.3h0M770.5,379.8h0M771.4,374.1h0M772.3,379.9h0M773.2,379.9h0M774.1,380.6h0M775,372.9h0M775.9,381.2h0M776.8,375.3h0M777.7,385h0M778.6,378h0M779.5,381.5h0M780.4,378.1h0M781.3,375.7h0M782.2,383.2h0M783.1,382.9h0M784,385.2h0M784.9,382.8h0M785.8,378h0M786.7,374.8h0M787.6,379.1h0M788.5,379.9h0M789.4,378.8h0M790.3,382.4h0M791.2,380.1h0M792.1,374.2h0M793,371.8h0M793.9,366.8h0M794.8,364h0M795.7,367.8h0M796.6,371.2h0M797.5,368.5h0M798.4,368.5h0M799.3,380h0M800.2,377.5h0M801.1,382.4h0M802,374.8h0M802.9,380.5h0M803.8,382.7h0M804.7,378.9h0M805.6,382.8h0M806.5,386.2h0M807.4,386.7h0M808.3,388.5h0M809.2,381.4h0M810.1,380.6h0M811,387.2h0M811.9,388.6h0M812.8,386.1h0M813.7,380.9h0M814.6,387.6h0M815.5,387.2h0M816.4,385.7h0M817.3,381.6h0M818.2,384.8h0M819.1,387.3h0M820,383.7h0M820.9,379h0M821.8,385.8h0M822.7,386.3h0M823.6,385h0M824.5,388.3h0M825.4,383.9h0M826.3,386.1h0M794.9,357.9h0" stroke="#a8a8a8" stroke-width="3.9" stroke-linecap="round" fill="none"/>
<path d="M423.5,103.4C424.7,103.9 428.6,106.7 430.5,106.2C432.4,105.7 433.4,102.2 434.9,100.4C436.4,98.7 437.8,95.6 439.3,95.7C440.8,95.8 442.2,99.6 443.7,101.3C445.1,103 446.2,106 448,105.7C449.8,105.4 452.3,99.9 454.2,99.2C456.1,98.5 457.6,102.1 459.4,101.7C461.1,101.3 462.9,97.2 464.7,97C466.5,96.8 468.1,100.3 470,100.5C471.9,100.7 473.5,99 476,98.2C478.5,97.5 482.8,97.8 484.8,96C486.9,94.2 487.1,90.8 488.3,87.3C489.5,83.8 490.8,75.3 492.2,75C493.6,74.7 495.3,82.7 497,85.5C498.7,88.3 500.6,90.8 502.4,91.7C504.2,92.7 505.9,90.3 507.6,91.2C509.4,92.1 511.2,96 512.9,97C514.6,98 516.2,97.7 518,97C519.8,96.3 521.9,93.3 523.4,93C524.9,92.7 525.6,95.3 526.9,95.2C528.2,95.1 529.5,92.3 531.3,92.2C533,92.1 535.2,94.2 537.4,94.7C539.6,95.2 542.3,95.6 544.4,95.2C546.5,94.8 547.9,93 549.7,92.6C551.5,92.2 553.5,92.3 555,92.6C556.5,92.9 556.6,95 558.5,94.3C560.4,93.6 564.2,88.6 566.4,88.2C568.6,87.8 569.5,91.9 571.6,91.7C573.7,91.5 576.4,87.6 578.7,87.3C581.1,87 583.5,90.2 585.7,89.9C587.9,89.6 589.8,85.3 591.8,85.6C593.8,85.9 596.3,90.7 597.9,91.7C599.5,92.7 599.9,92.5 601.4,91.7C602.9,90.9 604.2,87.7 606.7,87C609.2,86.3 613.7,87.1 616.3,87.7C618.9,88.3 620.9,90.8 622.5,90.5C624.1,90.2 624.7,89.2 626,85.6C627.3,82 628.7,68.6 630.3,68.9C631.9,69.2 633.5,84.1 635.6,87.3C637.7,90.5 640.6,89.7 642.6,88.2C644.6,86.7 646.1,78.1 647.9,78.2C649.6,78.3 650.8,87.2 653.1,89C655.4,90.8 659.6,88.5 661.9,89C664.2,89.5 665.5,91.6 667.1,91.7C668.7,91.8 669.7,89.6 671.5,89.4C673.3,89.2 675.7,90.3 677.7,90.8C679.7,91.3 682.6,92.3 683.6,92.6" stroke="#ff00ff" stroke-width="3.25" stroke-linejoin="round" stroke-linecap="round" fill="none"/>
<path d="M697.5,93.8C697.9,93.8 699.1,94 699.9,94.2C700.7,94.3 701.5,94.7 702.3,94.9C703.1,95.1 703.9,95.5 704.7,95.3C705.5,95.1 706.3,93.9 707.1,93.6C707.9,93.2 708.7,93 709.5,93C710.3,93.1 711.1,93.7 711.9,93.8C712.7,93.9 713.5,93.7 714.3,93.6C715.1,93.6 715.9,93.9 716.7,93.6C717.5,93.3 718.3,91.8 719.1,91.7C719.9,91.6 720.7,92.5 721.5,92.9C722.3,93.4 723.1,94.2 723.9,94.3C724.7,94.4 725.5,93.2 726.3,93.6C727.1,93.9 727.9,96.1 728.7,96.4C729.5,96.8 730.3,96.1 731.1,95.7C731.9,95.2 732.7,94.8 733.5,93.9C734.3,93.1 735.1,91.2 735.9,90.7C736.7,90.3 737.2,91.7 738.3,91C739.4,90.2 741.1,86.6 742.3,86.4C743.5,86.2 744.6,89 745.5,89.9C746.4,90.9 747.1,91.8 747.9,92.1C748.7,92.3 749.5,92.1 750.3,91.6C751.1,91 751.9,89.2 752.7,88.6C753.5,88 754.3,88.1 755.1,88.1C755.9,88.2 756.7,89 757.5,88.9C758.3,88.8 759.1,87.5 759.9,87.4C760.7,87.4 761.5,88.6 762.3,88.7C763.1,88.8 763.9,87.1 764.7,88C765.5,88.9 766.3,92.7 767.1,94.1C767.9,95.4 768.7,95.6 769.5,96C770.3,96.4 771.1,96.2 771.9,96.4C772.7,96.6 773.5,96.9 774.3,97.2C775.1,97.5 775.9,97.7 776.7,98.1C777.5,98.5 778.3,99.3 779.1,99.6C779.9,99.8 780.7,99.8 781.5,99.5C782.3,99.2 783.1,98.2 783.9,97.6C784.7,97.1 785.5,96.3 786.3,96C787.1,95.8 787.9,95.9 788.7,96.1C789.5,96.3 790.3,97.4 791.1,97.4C791.9,97.3 792.7,95.4 793.5,95.7C794.3,96 795.1,98.2 795.9,99.2C796.7,100.3 797.5,101.9 798.3,102C799.1,102.1 799.9,100 800.7,99.8C801.5,99.5 802.3,100.1 803.1,100.6C803.9,101 804.7,102.4 805.5,102.4C806.3,102.4 807.1,100.5 807.9,100.5C808.7,100.4 809.5,102 810.3,102.3C811.1,102.5 811.9,102.3 812.7,102.2C813.5,102 814.3,101.3 815.1,101.3C815.9,101.3 816.7,102 817.5,102.2C818.3,102.4 819.1,102.5 819.9,102.5C820.7,102.5 821.5,101.8 822.3,102.2C823.1,102.7 823.8,104.7 824.7,105.3C825.6,105.8 827.1,105.5 827.6,105.5" stroke="#ff00ff" stroke-width="3.25" stroke-linejoin="round" stroke-linecap="round" fill="none"/>
<path d="M423.5,225.5C424.5,226.1 427.6,229.2 429.6,229C431.7,228.8 434,229.1 435.8,224.6C437.6,220.1 438.9,202 440.5,201.8C442.1,201.7 443.8,219.3 445.4,223.7C446.9,228.1 448.1,228.3 449.8,228.4C451.6,228.5 454,224.7 455.9,224.2C457.8,223.7 459.3,225.7 461.2,225.5C463.1,225.3 465.4,223.1 467.3,222.8C469.2,222.5 470.4,224.8 472.6,223.7C474.8,222.6 478.5,216.9 480.5,216.2C482.5,215.5 482.9,219.9 484.8,219.3C486.7,218.7 489.9,213.1 491.8,212.7C493.7,212.3 494.9,216.3 496.2,216.7C497.5,217.1 497.5,214.6 499.7,214.9C501.9,215.2 507.1,218.2 509.4,218.4C511.7,218.6 511.8,216.1 513.7,216.3C515.6,216.5 518.4,221.4 520.8,219.7C523.2,218 526.1,206.7 528.3,206.2C530.5,205.7 531.9,215.1 533.9,216.7C535.9,218.3 537.8,215.1 540,215.8C542.2,216.5 544.7,221.1 547,221.1C549.3,221.1 551.8,216 554,215.8C556.2,215.6 558.1,221.2 560.3,219.8C562.5,218.4 565,208.9 567,207.3C569,205.8 570.8,210.2 572.3,210.5C573.8,210.8 574.5,208.5 576.3,209.2C578.1,209.9 579.9,213.7 583,214.5C586.1,215.3 591.9,214.4 595,214C598.1,213.6 599.5,218.6 601.6,211.8C603.7,205 605.7,173 607.7,173.2C609.7,173.4 611.1,206.8 613.6,213.2C616.1,219.6 620.4,215.6 622.9,211.8C625.4,208 626.8,190.5 628.7,190.5C630.6,190.5 632.4,208.2 634.3,211.8C636.2,215.4 638.1,223.8 640.2,211.8C642.3,199.8 644.8,140 647.1,140C649.4,140 651.2,199.7 654,211.8C656.8,223.9 661.5,212 664.1,212.6C666.7,213.2 668,215.2 669.5,215.3C671,215.4 671,213.3 673.4,213.2C675.8,213.1 681.9,214.3 683.6,214.5" stroke="#ffa000" stroke-width="3.25" stroke-linejoin="round" stroke-linecap="round" fill="none"/>
<path d="M697.5,213.6C697.9,213.7 699.1,214.1 699.9,214.4C700.7,214.8 701.5,215.6 702.3,215.8C703.1,216 703.9,215.8 704.7,215.7C705.5,215.7 706.3,215.9 707.1,215.6C707.9,215.3 708.7,214.1 709.5,214C710.3,214 711.1,215.5 711.9,215.4C712.7,215.3 713.5,214.1 714.3,213.5C715.1,212.8 715.9,212.1 716.7,211.7C717.5,211.4 718.3,211 719.1,211.4C719.9,211.7 720.7,213.2 721.5,213.8C722.3,214.5 723.1,215 723.9,215.5C724.7,216 725.5,217.2 726.3,216.8C727.1,216.5 727.9,214.1 728.7,213.5C729.5,213 730.3,213.4 731.1,213.5C731.9,213.5 732.7,213.9 733.5,214C734.3,214.1 735.1,214.4 735.9,214.2C736.7,213.9 737.5,213 738.3,212.4C739.1,211.9 739.9,211 740.7,210.8C741.5,210.6 742.3,210.6 743.1,211.3C743.9,212 744.7,214.5 745.5,214.9C746.3,215.3 747.1,214.1 747.9,213.8C748.7,213.5 749.5,212.9 750.3,213.1C751.1,213.2 751.9,214.4 752.7,214.7C753.5,214.9 754.3,216.7 755.1,214.4C755.9,212.2 756.6,206.6 757.5,201.3C758.4,196 759.7,183.9 760.5,182.8C761.3,181.7 761.6,190.1 762.3,194.9C763,199.6 763.9,208.2 764.7,211.4C765.5,214.7 766.3,213.6 767.1,214.2C767.9,214.9 768.7,215 769.5,215.5C770.3,215.9 771.1,216.9 771.9,216.8C772.7,216.7 773.5,214.8 774.3,214.9C775.1,215 775.9,217 776.7,217.4C777.5,217.7 778.3,217.1 779.1,217C779.9,217 780.7,217.1 781.5,217.1C782.3,217 783.1,216.3 783.9,216.8C784.7,217.3 785.5,218.9 786.3,220C787.1,221.1 787.9,223.2 788.7,223.3C789.5,223.4 790.3,222 791.1,220.6C791.9,219.3 792.6,217.6 793.5,215.2C794.4,212.8 795.8,207.2 796.6,206.4C797.4,205.6 797.6,208 798.3,210.3C799,212.6 799.9,218.4 800.7,220.1C801.5,221.9 802.3,220.7 803.1,220.8C803.9,220.9 804.7,220.7 805.5,220.9C806.3,221.2 807.1,221.8 807.9,222.2C808.7,222.5 809.5,222.9 810.3,223C811.1,223.2 811.9,222.8 812.7,223C813.5,223.1 814.3,224.1 815.1,223.8C815.9,223.6 816.7,221.8 817.5,221.4C818.3,220.9 819.1,220.8 819.9,221.2C820.7,221.7 821.5,223.5 822.3,224.1C823.1,224.6 823.8,224.3 824.7,224.7C825.6,225 827.1,225.9 827.6,226.1" stroke="#ffa000" stroke-width="3.25" stroke-linejoin="round" stroke-linecap="round" fill="none"/>
<path d="M423.5,299.6C424.4,300.4 426.8,304.2 428.8,304.5C430.9,304.8 433.9,303.2 435.8,301.3C437.7,299.4 438.6,293.3 440.2,292.9C441.8,292.5 443.5,297.4 445.4,298.7C447.3,300 449.8,299.8 451.5,300.5C453.2,301.2 454.3,302.7 455.9,302.7C457.5,302.7 459.3,301.3 461.2,300.5C463.1,299.7 464.8,299.1 467.3,297.8C469.8,296.5 473.8,292.8 476.1,292.6C478.4,292.4 479.6,297.6 481.3,296.4C483.1,295.2 484.9,290.6 486.6,285.6C488.3,280.6 489.9,266.3 491.5,266.3C493.1,266.3 494.8,281.5 496.2,285.6C497.6,289.8 498.4,290.5 499.7,291.2C501,291.9 502.6,290.9 504.1,289.9C505.6,288.9 506.8,284.5 508.5,285.2C510.2,285.9 512.7,293.2 514.6,294.3C516.5,295.4 517.9,292.1 519.9,291.7C521.9,291.3 524.7,292.2 526.9,291.7C529.1,291.2 531,288.6 533,288.7C535,288.8 536.6,291.8 539.1,292.2C541.6,292.6 545.9,290.8 547.9,290.8C549.9,290.8 549.9,292.6 551.4,292.2C552.9,291.8 555.4,289 556.7,288.7C558,288.4 558.2,290.9 559.4,290.5C560.6,290.1 562.2,287.1 563.8,286.4C565.4,285.7 567.5,286 569,286.4C570.5,286.8 571.5,288.7 572.5,288.7C573.5,288.7 574.3,286.5 575.2,286.4C576.1,286.3 576.5,288.4 577.8,288.2C579.1,288 581.4,286.3 583,285.2C584.6,284.1 585.8,282.4 587.4,281.7C589,280.9 591.1,280 592.7,280.7C594.3,281.4 595.6,283.9 597,285.6C598.4,287.3 599.6,290.8 600.9,290.8C602.2,290.9 603.2,286.5 604.9,285.9C606.6,285.3 609.4,287 611,287C612.6,287 613.5,286.5 614.6,285.9C615.7,285.3 616.6,283.2 617.7,283.5C618.8,283.8 620,287.6 621.2,287.7C622.4,287.8 624,284.2 625.1,283.8C626.2,283.4 626.5,288.9 627.7,285.2C628.9,281.5 630.6,261.4 632.1,261.9C633.6,262.4 635.2,284.4 637,288.2C638.8,292 640.6,286.5 642.6,284.7C644.6,282.9 647.2,277.1 649.1,277.1C651,277.1 652.2,283 654,284.7C655.8,286.4 658.4,287.6 660.1,287.3C661.9,287 663.2,282.8 664.5,282.9C665.8,283 666.7,286.4 668,287.7C669.3,289 670.8,290.5 672.4,290.5C674,290.5 675.8,288.1 677.7,287.7C679.6,287.3 682.6,288.1 683.6,288.2" stroke="#0000ff" stroke-width="3.25" stroke-linejoin="round" stroke-linecap="round" fill="none"/>
<path d="M697.5,289.2C697.9,289.6 699.1,290.9 699.9,291.4C700.7,291.9 701.5,292.3 702.3,292.2C703.1,292.1 703.9,291.4 704.7,290.7C705.5,290.1 706.3,288.8 707.1,288.3C707.9,287.8 708.7,287.8 709.5,287.8C710.3,287.7 711.1,287.6 711.9,288.1C712.7,288.5 713.5,290.2 714.3,290.5C715.1,290.8 715.9,290.5 716.7,289.9C717.5,289.4 718.3,287.2 719.1,287.3C719.9,287.4 720.7,290.1 721.5,290.4C722.3,290.7 723.1,289 723.9,288.9C724.7,288.8 725.5,289.4 726.3,289.8C727.1,290.1 727.9,291.1 728.7,291C729.5,290.8 730.3,289.5 731.1,289C731.9,288.5 732.7,287.8 733.5,287.8C734.3,287.8 735.1,289.1 735.9,289.3C736.7,289.4 737.3,289.4 738.3,288.5C739.3,287.6 740.8,283.6 742,283.8C743.2,284 744.5,288.9 745.5,289.8C746.5,290.7 747.1,289.9 747.9,289.4C748.7,288.9 749.5,287.3 750.3,286.9C751.1,286.6 751.9,287.1 752.7,287.1C753.5,287.2 754.3,288.2 755.1,287.4C755.9,286.6 756.7,283 757.5,282.4C758.3,281.9 759.1,284 759.9,284.1C760.7,284.2 761.4,284 762.3,283.2C763.2,282.4 764.3,279.1 765.1,279.4C765.9,279.7 766.4,282.9 767.1,285.1C767.8,287.3 768.7,291.1 769.5,292.6C770.3,294.1 771.1,293.8 771.9,293.9C772.7,293.9 773.5,293.1 774.3,293C775.1,292.8 775.9,292.8 776.7,292.9C777.5,292.9 778.3,294 779.1,293.4C779.9,292.9 780.7,289.5 781.5,289.6C782.3,289.6 783.1,292.7 783.9,293.6C784.7,294.5 785.5,295.2 786.3,295C787.1,294.8 787.9,292.9 788.7,292.2C789.5,291.6 790.3,291.4 791.1,291.2C791.9,291 792.7,290.7 793.5,290.9C794.3,291.1 795.1,291.8 795.9,292.2C796.7,292.6 797.5,292.8 798.3,293C799.1,293.3 799.9,293 800.7,293.8C801.5,294.6 802.3,297.5 803.1,298C803.9,298.5 804.7,297.1 805.5,296.9C806.3,296.7 807.1,296.5 807.9,296.6C808.7,296.8 809.5,297.6 810.3,297.6C811.1,297.7 811.9,296.9 812.7,296.8C813.5,296.7 814.3,297 815.1,296.9C815.9,296.8 816.7,295.7 817.5,296.1C818.3,296.4 819.1,298.2 819.9,299C820.7,299.8 821.5,300.7 822.3,300.7C823.1,300.8 823.8,299.2 824.7,299.2C825.6,299.2 827.1,300.5 827.6,300.8" stroke="#0000ff" stroke-width="3.25" stroke-linejoin="round" stroke-linecap="round" fill="none"/>
<path d="M423.5,384.8C424.2,385.4 426.3,387.7 427.9,388.3C429.5,388.9 431.7,388.9 433.1,388.7C434.6,388.5 435.3,386.7 436.6,386.9C437.9,387.1 439.7,390.3 441,390.1C442.3,389.9 443,386.2 444.5,385.7C446,385.2 448.1,387 449.8,386.9C451.6,386.8 453.6,386.3 455,385.2C456.4,384.1 457,380.1 458.2,380.5C459.4,380.9 461.2,387 462.4,387.5C463.6,388 464.5,383.6 465.6,383.4C466.7,383.2 467.9,386.2 469.1,386.2C470.3,386.2 470.6,384.1 472.6,383.4C474.6,382.7 479,383.1 481.3,382.2C483.6,381.3 485.1,378.1 486.6,377.8C488.1,377.5 488.4,379.7 490.1,380.5C491.9,381.3 494.5,382.6 497.1,382.7C499.7,382.8 503.7,381.8 505.9,381C508.1,380.2 508.8,378 510.2,378.2C511.6,378.4 513.3,381.7 514.6,382.2C515.9,382.7 516.8,380.9 518.1,381C519.4,381.1 521.2,383.1 522.5,382.7C523.8,382.3 524.1,379 526,378.7C527.9,378.4 531.9,381.1 533.9,381C535.9,380.9 536.4,378.1 538.3,378.2C540.2,378.2 543.4,381.2 545.3,381.3C547.2,381.4 548.3,378.7 549.7,378.7C551.1,378.7 552.2,381.6 553.5,381.3C554.8,381 556.5,377.7 557.5,376.9C558.5,376.1 558.4,376.1 559.4,376.4C560.4,376.7 562,378.5 563.8,378.7C565.5,378.9 567.9,378.3 569.9,377.8C571.9,377.3 574.2,375.6 576,375.7C577.8,375.8 578.9,379 580.4,378.7C581.9,378.4 583.5,374.5 584.8,374C586.1,373.5 587,375.6 588.3,375.7C589.6,375.8 591.4,373.8 592.7,374.3C594,374.8 594.6,378.6 596.2,378.7C597.8,378.8 600.5,375.6 602.3,374.7C604,373.8 605.3,374.9 606.7,373.4C608.1,371.9 609.2,366.2 610.7,365.9C612.2,365.6 613.8,369.9 615.5,371.7C617.2,373.5 619,376.6 620.7,376.9C622.5,377.2 624.3,377 626,373.4C627.7,369.8 629.3,355 630.9,355C632.5,355 633.8,371 635.6,373.4C637.4,375.8 639.9,376.2 641.7,369.1C643.5,362 644.9,330.2 646.6,330.5C648.3,330.8 650.4,363 651.9,370.8C653.4,378.6 653.8,376.8 655.8,377.5C657.8,378.2 661,375.3 663.6,375.2C666.2,375.1 669.5,376.9 671.5,376.9C673.5,376.9 673.9,374.9 675.9,375.2C677.9,375.4 682.3,377.9 683.6,378.4" stroke="#ff0000" stroke-width="3.25" stroke-linejoin="round" stroke-linecap="round" fill="none"/>
<path d="M697.5,376.9C697.9,377 699.1,377 699.9,377.2C700.7,377.4 701.5,377.7 702.3,378.1C703.1,378.5 703.9,380 704.7,379.7C705.5,379.4 706.3,377 707.1,376.6C707.9,376.1 708.7,376.9 709.5,376.9C710.3,376.8 711.1,376.1 711.9,376.1C712.7,376.2 713.5,376.9 714.3,377.3C715.1,377.6 715.9,378.4 716.7,378.2C717.5,378 718.3,375.7 719.1,376.1C719.9,376.4 720.7,380.3 721.5,380.5C722.3,380.7 723.1,377.7 723.9,377.3C724.7,377 725.5,378.7 726.3,378.4C727.1,378.1 727.9,375.9 728.7,375.6C729.5,375.2 730.3,375.9 731.1,376.3C731.9,376.6 732.7,377.5 733.5,377.6C734.3,377.7 735.1,376.9 735.9,376.9C736.7,376.8 737.5,377.1 738.3,377.6C739.1,378 739.9,379.1 740.7,379.6C741.5,380.1 742.3,380.6 743.1,380.7C743.9,380.8 744.7,380.4 745.5,380.3C746.3,380.2 747.1,380.5 747.9,380.1C748.7,379.8 749.5,378.9 750.3,378.2C751.1,377.4 751.9,375.8 752.7,375.6C753.5,375.5 754.3,377.5 755.1,377C755.9,376.5 756.7,372.7 757.5,372.7C758.3,372.6 759.1,376.5 759.9,376.9C760.7,377.3 761.4,375.7 762.3,375C763.2,374.2 764.3,372 765.1,372.2C765.9,372.4 766.4,374.8 767.1,376C767.8,377.2 768.7,378.7 769.5,379.4C770.3,380.1 771.1,380.6 771.9,380.1C772.7,379.7 773.5,377.5 774.3,376.8C775.1,376.1 775.9,375.3 776.7,375.7C777.5,376.1 778.3,378.6 779.1,379.2C779.9,379.8 780.7,379.2 781.5,379.4C782.3,379.5 783.1,380.1 783.9,380.1C784.7,380.2 785.5,379.4 786.3,379.8C787.1,380.2 787.9,382.4 788.7,382.4C789.5,382.3 790.1,382.7 791.1,379.5C792.1,376.2 793.7,363.9 794.9,362.9C796.1,361.9 797.3,370.7 798.3,373.2C799.3,375.8 799.9,376.7 800.7,378.2C801.5,379.6 802.3,380.8 803.1,381.9C803.9,382.9 804.7,384.4 805.5,384.6C806.3,384.7 807.1,382.6 807.9,382.8C808.7,383 809.5,385 810.3,385.5C811.1,385.9 811.9,385.5 812.7,385.4C813.5,385.3 814.3,385.3 815.1,384.9C815.9,384.5 816.7,382.9 817.5,383.1C818.3,383.2 819.1,385.3 819.9,385.6C820.7,385.8 821.5,384.6 822.3,384.5C823.1,384.5 823.8,385 824.7,385.4C825.6,385.9 827.1,386.9 827.6,387.2" stroke="#ff0000" stroke-width="3.25" stroke-linejoin="round" stroke-linecap="round" fill="none"/>
<rect x="425.1" y="22.7" width="259.9" height="383.9" fill="none" stroke="#000" stroke-width="2.85"/>
<rect x="698" y="22.7" width="131" height="383.9" fill="none" stroke="#000" stroke-width="2.85"/>
<path d="M450.2,405.3v-2.5M476.4,405.3v-4.6M502.6,405.3v-2.5M528.7,405.3v-4.6M554.9,405.3v-2.5M581.1,405.3v-4.6M607.2,405.3v-2.5M633.4,405.3v-4.6M659.6,405.3v-2.5M723.3,405.3v-4.6M749.4,405.3v-2.5M775.6,405.3v-4.6M801.8,405.3v-2.5" stroke="#000" stroke-width="2.1" fill="none"/>
<g font-size="13" fill="#1a1a1a" text-anchor="middle">
<text x="421.5" y="421.2">800</text>
<text x="475.4" y="421.2">1,000</text>
<text x="527.3" y="421.2">1,200</text>
<text x="579.8" y="421.2">1,400</text>
<text x="631.7" y="421.2">1,600</text>
<text x="679.8" y="421.2">1,800</text>
<text x="722" y="421.2">2,800</text>
<text x="773.8" y="421.2">3,000</text>
<text x="825.3" y="421.2">3,200</text>
</g>
<text x="632.5" y="437.4" font-size="13.5" fill="#1a1a1a" text-anchor="middle">Raman shift (cm<tspan font-size="8.4" dy="-4.8">-1</tspan><tspan dy="4.8">)</tspan></text>
<text transform="translate(415.2,215.2) rotate(-90)" font-size="13.8" fill="#1a1a1a" text-anchor="middle">Intensity (a.u.)</text>
<text transform="translate(445,87.2) rotate(-90)" fill="#1a1a1a" font-size="12.7">859</text>
<text transform="translate(496.3,65.3) rotate(-90)" fill="#1a1a1a" font-size="12.7">1,055</text>
<text transform="translate(597.2,75.4) rotate(-90)" fill="#d0312d" font-size="12.7">1,437</text>
<text transform="translate(636.1,57.4) rotate(-90)" fill="#d0312d" font-size="12.7">1,594</text>
<text transform="translate(655,63.6) rotate(-90)" fill="#d0312d" font-size="12.7">1,656</text>
<text transform="translate(766.1,74.1) rotate(-90)" fill="#1a1a1a" font-size="12.7">2,956</text>
<text transform="translate(797.1,88.1) rotate(-90)" fill="#9a9a9a" font-size="12.7">3,068</text>
<text transform="translate(447.8,194.7) rotate(-90)" fill="#1a1a1a" font-size="12.7">859</text>
<text transform="translate(534.9,198.2) rotate(-90)" fill="#1a1a1a" font-size="12.7">1,200</text>
<text transform="translate(613.3,163.4) rotate(-90)" fill="#d0312d" font-size="12.7">1,501</text>
<text transform="translate(634,184.7) rotate(-90)" fill="#d0312d" font-size="12.7">1,585</text>
<text transform="translate(653.5,128.3) rotate(-90)" fill="#d0312d" font-size="12.7">1,653</text>
<text transform="translate(723.5,202.8) rotate(-90)" fill="#9a9a9a" font-size="12.7">2,790</text>
<text transform="translate(765.5,173.3) rotate(-90)" fill="#1a1a1a" font-size="12.7">2,943</text>
<text transform="translate(796.4,197.1) rotate(-90)" fill="#d0312d" font-size="12.7">3,080</text>
<text transform="translate(446.4,279.7) rotate(-90)" fill="#1a1a1a" font-size="12.7">859</text>
<text transform="translate(496.3,259.2) rotate(-90)" fill="#1a1a1a" font-size="12.7">1,055</text>
<text transform="translate(597.2,276.8) rotate(-90)" fill="#d0312d" font-size="12.7">1,460</text>
<text transform="translate(636.6,253.9) rotate(-90)" fill="#d0312d" font-size="12.7">1,600</text>
<text transform="translate(654.1,272.3) rotate(-90)" fill="#d0312d" font-size="12.7">1,664</text>
<text transform="translate(670.4,277.6) rotate(-90)" fill="#9a9a9a" font-size="12.7">1,730</text>
<text transform="translate(766.6,273.2) rotate(-90)" fill="#1a1a1a" font-size="12.7">2,948</text>
<text transform="translate(617.3,355.8) rotate(-90)" fill="#d0312d" font-size="12.7">1,510</text>
<text transform="translate(636.6,349.7) rotate(-90)" fill="#d0312d" font-size="12.7">1,597</text>
<text transform="translate(653,326.8) rotate(-90)" fill="#d0312d" font-size="12.7">1,650</text>
<text transform="translate(795.5,352) rotate(-90)" fill="#d0312d" font-size="12.7">3,078</text>
<text x="800.6" y="66.5" font-size="13" fill="#000"><tspan font-weight="bold">1,</tspan> A</text>
<text x="800.6" y="189.3" font-size="13" fill="#000"><tspan font-weight="bold">2,</tspan> T</text>
<text x="800.6" y="277.2" font-size="13" fill="#000"><tspan font-weight="bold">3,</tspan> G</text>
<text x="800.6" y="339.3" font-size="13" fill="#000"><tspan font-weight="bold">4,</tspan> C</text>
</g>
<defs>
<linearGradient id="gA" gradientUnits="userSpaceOnUse" x1="1080" y1="0" x2="1108" y2="0"><stop offset="0" stop-color="#fff"/><stop offset="0.2" stop-color="#fff"/><stop offset="0.45" stop-color="#ff90ff"/><stop offset="0.72" stop-color="#ff10ff"/><stop offset="1" stop-color="#ff00ff"/></linearGradient>
<linearGradient id="gT" gradientUnits="userSpaceOnUse" x1="1152" y1="0" x2="1177" y2="0"><stop offset="0" stop-color="#f59a00"/><stop offset="0.35" stop-color="#f8b040"/><stop offset="0.8" stop-color="#fff"/><stop offset="1" stop-color="#fff"/></linearGradient>
<linearGradient id="gG" gradientUnits="userSpaceOnUse" x1="1077" y1="0" x2="1103" y2="0"><stop offset="0" stop-color="#fff"/><stop offset="0.22" stop-color="#fff"/><stop offset="0.5" stop-color="#9898ff"/><stop offset="0.8" stop-color="#1818ff"/><stop offset="1" stop-color="#0000ff"/></linearGradient>
<linearGradient id="gC" gradientUnits="userSpaceOnUse" x1="1134" y1="0" x2="1160" y2="0"><stop offset="0" stop-color="#ff0000"/><stop offset="0.3" stop-color="#ff2020"/><stop offset="0.8" stop-color="#fff"/><stop offset="1" stop-color="#fff"/></linearGradient>
</defs>
<g id="pc">
<rect x="884" y="53" width="90.8" height="90.5" fill="#2a1c18"/><rect x="885.5" y="54.5" width="17.9" height="17.8" fill="#2d0508"/><rect x="903.1" y="54.5" width="17.9" height="17.8" fill="#330406"/><rect x="920.6" y="54.5" width="17.9" height="17.8" fill="#2e0406"/><rect x="938.2" y="54.5" width="17.9" height="17.8" fill="#1a060c"/><rect x="955.7" y="54.5" width="17.6" height="17.8" fill="#2d0408"/><rect x="885.5" y="72" width="17.9" height="17.8" fill="#3a0618"/><rect x="903.1" y="72" width="17.9" height="17.8" fill="#260408"/><rect x="920.6" y="72" width="17.9" height="17.8" fill="#030203"/><rect x="938.2" y="72" width="17.9" height="17.8" fill="#080508"/><rect x="955.7" y="72" width="17.6" height="17.8" fill="#28061e"/><rect x="885.5" y="89.5" width="17.9" height="17.8" fill="#33082e"/><rect x="903.1" y="89.5" width="17.9" height="17.8" fill="#2e0610"/><rect x="920.6" y="89.5" width="17.9" height="17.8" fill="#08086a"/><rect x="938.2" y="89.5" width="17.9" height="17.8" fill="#04042a"/><rect x="955.7" y="89.5" width="17.6" height="17.8" fill="#200618"/><rect x="885.5" y="107" width="17.9" height="17.8" fill="#3a0404"/><rect x="903.1" y="107" width="17.9" height="17.8" fill="#2a0404"/><rect x="920.6" y="107" width="17.9" height="17.8" fill="#300505"/><rect x="938.2" y="107" width="17.9" height="17.8" fill="#300505"/><rect x="955.7" y="107" width="17.6" height="17.8" fill="#300505"/><rect x="885.5" y="124.5" width="17.9" height="17.5" fill="#3a0406"/><rect x="903.1" y="124.5" width="17.9" height="17.5" fill="#2a0622"/><rect x="920.6" y="124.5" width="17.9" height="17.5" fill="#260412"/><rect x="938.2" y="124.5" width="17.9" height="17.5" fill="#260412"/><rect x="955.7" y="124.5" width="17.6" height="17.5" fill="#260412"/>
<rect x="934.5" y="244" width="90.2" height="90" fill="#2a1c18"/><rect x="936" y="245.5" width="17.7" height="17.7" fill="#4a0418"/><rect x="953.4" y="245.5" width="17.7" height="17.7" fill="#5800c0"/><rect x="970.9" y="245.5" width="17.7" height="17.7" fill="#a00010"/><rect x="988.3" y="245.5" width="17.7" height="17.7" fill="#600020"/><rect x="1005.8" y="245.5" width="17.4" height="17.7" fill="#900020"/><rect x="936" y="262.9" width="17.7" height="17.7" fill="#4a0418"/><rect x="953.4" y="262.9" width="17.7" height="17.7" fill="#2a0070"/><rect x="970.9" y="262.9" width="17.7" height="17.7" fill="#0800b0"/><rect x="988.3" y="262.9" width="17.7" height="17.7" fill="#040068"/><rect x="1005.8" y="262.9" width="17.4" height="17.7" fill="#040050"/><rect x="936" y="280.3" width="17.7" height="17.7" fill="#3000a0"/><rect x="953.4" y="280.3" width="17.7" height="17.7" fill="#1000f0"/><rect x="970.9" y="280.3" width="17.7" height="17.7" fill="#1800ff"/><rect x="988.3" y="280.3" width="17.7" height="17.7" fill="#3000a8"/><rect x="1005.8" y="280.3" width="17.4" height="17.7" fill="#060080"/><rect x="936" y="297.7" width="17.7" height="17.7" fill="#0800b0"/><rect x="953.4" y="297.7" width="17.7" height="17.7" fill="#1000f0"/><rect x="970.9" y="297.7" width="17.7" height="17.7" fill="#1000c8"/><rect x="988.3" y="297.7" width="17.7" height="17.7" fill="#3800a0"/><rect x="1005.8" y="297.7" width="17.4" height="17.7" fill="#4000b0"/><rect x="936" y="315.1" width="17.7" height="17.4" fill="#0000e0"/><rect x="953.4" y="315.1" width="17.7" height="17.4" fill="#0000e0"/><rect x="970.9" y="315.1" width="17.7" height="17.4" fill="#0000d0"/><rect x="988.3" y="315.1" width="17.7" height="17.4" fill="#0000e8"/><rect x="1005.8" y="315.1" width="17.4" height="17.4" fill="#2000c0"/>
<rect x="934.5" y="319" width="90.2" height="89.5" fill="#2a1c18"/><rect x="936" y="320.5" width="17.7" height="17.6" fill="#1010e0"/><rect x="953.4" y="320.5" width="17.7" height="17.6" fill="#0808d0"/><rect x="970.9" y="320.5" width="17.7" height="17.6" fill="#3828e0"/><rect x="988.3" y="320.5" width="17.7" height="17.6" fill="#780088"/><rect x="1005.8" y="320.5" width="17.4" height="17.6" fill="#4800a8"/><rect x="936" y="337.8" width="17.7" height="17.6" fill="#3a1408"/><rect x="953.4" y="337.8" width="17.7" height="17.6" fill="#040048"/><rect x="970.9" y="337.8" width="17.7" height="17.6" fill="#8a1028"/><rect x="988.3" y="337.8" width="17.7" height="17.6" fill="#ffa030"/><rect x="1005.8" y="337.8" width="17.4" height="17.6" fill="#88006c"/><rect x="936" y="355.1" width="17.7" height="17.6" fill="#3a0a04"/><rect x="953.4" y="355.1" width="17.7" height="17.6" fill="#887060"/><rect x="970.9" y="355.1" width="17.7" height="17.6" fill="#b81020"/><rect x="988.3" y="355.1" width="17.7" height="17.6" fill="#ff4000"/><rect x="1005.8" y="355.1" width="17.4" height="17.6" fill="#e01800"/><rect x="936" y="372.4" width="17.7" height="17.6" fill="#501408"/><rect x="953.4" y="372.4" width="17.7" height="17.6" fill="#780404"/><rect x="970.9" y="372.4" width="17.7" height="17.6" fill="#ff6028"/><rect x="988.3" y="372.4" width="17.7" height="17.6" fill="#c81808"/><rect x="1005.8" y="372.4" width="17.4" height="17.6" fill="#b01008"/><rect x="936" y="389.7" width="17.7" height="17.3" fill="#4a1018"/><rect x="953.4" y="389.7" width="17.7" height="17.3" fill="#8a1004"/><rect x="970.9" y="389.7" width="17.7" height="17.3" fill="#ff2800"/><rect x="988.3" y="389.7" width="17.7" height="17.3" fill="#e81800"/><rect x="1005.8" y="389.7" width="17.4" height="17.3" fill="#b00000"/>
<rect x="938.5" y="170" width="90.2" height="90.3" fill="#2a1c18"/><rect x="940" y="171.5" width="17.7" height="17.8" fill="#5a1040"/><rect x="957.4" y="171.5" width="17.7" height="17.8" fill="#7a1080"/><rect x="974.9" y="171.5" width="17.7" height="17.8" fill="#1808c0"/><rect x="992.3" y="171.5" width="17.7" height="17.8" fill="#601880"/><rect x="1009.8" y="171.5" width="17.4" height="17.8" fill="#a85040"/><rect x="940" y="189" width="17.7" height="17.8" fill="#1808b8"/><rect x="957.4" y="189" width="17.7" height="17.8" fill="#501870"/><rect x="974.9" y="189" width="17.7" height="17.8" fill="#d06890"/><rect x="992.3" y="189" width="17.7" height="17.8" fill="#5830c0"/><rect x="1009.8" y="189" width="17.4" height="17.8" fill="#280070"/><rect x="940" y="206.4" width="17.7" height="17.8" fill="#3a0a0c"/><rect x="957.4" y="206.4" width="17.7" height="17.8" fill="#e0a860"/><rect x="974.9" y="206.4" width="17.7" height="17.8" fill="#ffa020"/><rect x="992.3" y="206.4" width="17.7" height="17.8" fill="#ff9040"/><rect x="1009.8" y="206.4" width="17.4" height="17.8" fill="#982848"/><rect x="940" y="223.9" width="17.7" height="17.8" fill="#3a0a0c"/><rect x="957.4" y="223.9" width="17.7" height="17.8" fill="#ff9040"/><rect x="974.9" y="223.9" width="17.7" height="17.8" fill="#ffc018"/><rect x="992.3" y="223.9" width="17.7" height="17.8" fill="#f04808"/><rect x="1009.8" y="223.9" width="17.4" height="17.8" fill="#ff8010"/><rect x="940" y="241.3" width="17.7" height="17.5" fill="#5a3020"/><rect x="957.4" y="241.3" width="17.7" height="17.5" fill="#ffe048"/><rect x="974.9" y="241.3" width="17.7" height="17.5" fill="#ff7028"/><rect x="992.3" y="241.3" width="17.7" height="17.5" fill="#f87020"/><rect x="1009.8" y="241.3" width="17.4" height="17.5" fill="#f07818"/>
<rect x="931.9" y="95.3" width="90.4" height="90.2" fill="#2a1c18"/><rect x="933.4" y="96.8" width="17.8" height="17.7" fill="#0a0560"/><rect x="950.9" y="96.8" width="17.8" height="17.7" fill="#1c0460"/><rect x="968.4" y="96.8" width="17.8" height="17.7" fill="#220458"/><rect x="985.8" y="96.8" width="17.8" height="17.7" fill="#780440"/><rect x="1003.3" y="96.8" width="17.5" height="17.7" fill="#480410"/><rect x="933.4" y="114.2" width="17.8" height="17.7" fill="#08048a"/><rect x="950.9" y="114.2" width="17.8" height="17.7" fill="#0a048c"/><rect x="968.4" y="114.2" width="17.8" height="17.7" fill="#ff00ff"/><rect x="985.8" y="114.2" width="17.8" height="17.7" fill="#780440"/><rect x="1003.3" y="114.2" width="17.5" height="17.7" fill="#680438"/><rect x="933.4" y="131.7" width="17.8" height="17.7" fill="#1a0460"/><rect x="950.9" y="131.7" width="17.8" height="17.7" fill="#28049a"/><rect x="968.4" y="131.7" width="17.8" height="17.7" fill="#ff00ff"/><rect x="985.8" y="131.7" width="17.8" height="17.7" fill="#8a04b0"/><rect x="1003.3" y="131.7" width="17.5" height="17.7" fill="#700440"/><rect x="933.4" y="149.1" width="17.8" height="17.7" fill="#2a0468"/><rect x="950.9" y="149.1" width="17.8" height="17.7" fill="#380460"/><rect x="968.4" y="149.1" width="17.8" height="17.7" fill="#e800f8"/><rect x="985.8" y="149.1" width="17.8" height="17.7" fill="#4a0478"/><rect x="1003.3" y="149.1" width="17.5" height="17.7" fill="#740444"/><rect x="933.4" y="166.6" width="17.8" height="17.4" fill="#1e0468"/><rect x="950.9" y="166.6" width="17.8" height="17.4" fill="#6a0480"/><rect x="968.4" y="166.6" width="17.8" height="17.4" fill="#480470"/><rect x="985.8" y="166.6" width="17.8" height="17.4" fill="#4000a8"/><rect x="1003.3" y="166.6" width="17.5" height="17.4" fill="#6a0458"/>
<ellipse cx="1055.1" cy="79" rx="30.3" ry="18.3" fill="#fff" stroke="#2a1a18" stroke-width="1.3"/>
<text x="1056" y="87.2" font-size="21.2" text-anchor="middle" fill="#000">FAM</text>
<path d="M1084.4,85.9L1111.5,109.3L1125.4,148.9" fill="none" stroke="#000" stroke-width="1.5" stroke-linejoin="round"/>
<path d="M1125.4,148.9C1123.2,165.3 1130.9,176.5 1136.4,192M1125.4,148.9C1129.6,161.8 1138,173.9 1136.4,192M1122.8,223.5C1120.6,238.5 1128.3,248.8 1133.8,263M1122.8,223.5C1127,235.3 1135.4,246.4 1133.8,263M1120.3,302.5C1118.1,317.9 1125.8,328.4 1131.3,343M1120.3,302.5C1124.5,314.6 1132.9,326 1131.3,343" fill="none" stroke="#000" stroke-width="1.25"/>
<path d="M1136.6,189C1134.6,199.8 1123,209.9 1122.6,225C1128.2,214.2 1138.8,204.1 1136.6,189ZM1133.8,261C1131.8,273.8 1120.6,285.6 1120.2,303.5C1125.8,290.8 1136,278.9 1133.8,261ZM1131.3,341C1129.9,354 1118.4,366.1 1117.4,384.3C1122.4,371.3 1133.1,359.2 1131.3,341Z" fill="#000" stroke="#000" stroke-width="0.9" stroke-linejoin="round"/>
<path d="M1080.9,122.6L1093.5,119L1104.9,127.9L1100.9,141.9L1088.5,146.3L1078.9,136.9Z" fill="url(#gA)"/>
<path d="M1100.9,141.9L1109.9,153.9L1101.9,164.3L1089.5,160.9L1088.5,146.3Z" fill="url(#gA)"/>
<path d="M1150.8,259.9L1155.8,245.9L1169.8,244L1177.7,255.9L1172.7,268.9L1158.8,270.5Z" fill="url(#gT)"/>
<path d="M1093.3,270.9L1078.9,273.9L1075.9,286.9L1083.9,296.8L1098.3,293.5L1102.9,282.5Z" fill="url(#gG)"/>
<path d="M1098.3,293.5L1103.9,306.9L1095.9,316.3L1083.5,311.9L1083.9,296.8Z" fill="url(#gG)"/>
<path d="M1133.4,386.9L1141.8,375.5L1155.4,377.5L1160.8,389.5L1152.8,400.3L1138.8,398.9Z" fill="url(#gC)"/>
<path d="M1084.4,121.6L1093.5,119M1093.5,119L1102.1,125.7M1093.4,121.7L1099.4,126.4M1103.9,131.4L1100.9,141.9M1100.9,141.9L1088.5,146.3M1098.3,140.5L1089.6,143.6M1088.5,146.3L1078.9,136.9M1078.9,136.9L1080.4,126.2M1081.3,135.6L1082.4,128.1M1100.9,141.9L1107.7,151M1107.7,156.8L1101.9,164.3M1101.9,164.3L1093,161.9M1101.1,161.8L1094.9,160.1M1089.3,157.3L1088.5,146.3M1078.9,136.9L1069.2,139.9M1113.8,152.3L1125.4,148.9M1152,256.5L1155.8,245.9M1155.8,245.9L1164.3,244.7M1172.3,247.7L1177.7,255.9M1177.7,255.9L1172.7,268.9M1172.7,268.9L1158.8,270.5M1170.4,267L1160.6,268.1M1158.8,270.5L1153,262.8M1155.8,245.9L1150.3,238.7M1154,247.3L1148.5,240.1M1177.7,255.9L1186.6,254.6M1177.4,253.6L1186.3,252.3M1172.7,268.9L1182.1,279.9M1133.8,261.9L1147,260.3M1093.3,270.9L1084.8,272.7M1078,277.8L1075.9,286.9M1075.9,286.9L1083.9,296.8M1083.9,296.8L1098.3,293.5M1085.6,294.2L1095.6,291.9M1098.3,293.5L1101.5,285.8M1100.6,279.7L1093.3,270.9M1097.8,279.8L1092.7,273.6M1098.3,293.5L1102.5,303.6M1101.6,309.6L1095.9,316.3M1095.9,316.3L1086.9,313.1M1095.3,313.7L1089,311.5M1083.6,308.3L1083.9,296.8M1075.9,286.9L1065.7,289M1075.4,284.6L1065.2,286.8M1093.3,270.9L1096.6,263.6M1107.8,305.8L1120.3,302.9M1135.5,384L1141.8,375.5M1141.8,375.5L1151.8,377M1156.9,380.8L1160.8,389.5M1155.5,383L1158.2,389.1M1160.8,389.5L1152.8,400.3M1152.8,400.3L1138.8,398.9M1150.9,397.9L1141.1,396.9M1138.8,398.9L1134.9,390.2M1141.8,375.5L1137.8,365.8M1143.9,374.6L1139.9,364.9M1160.8,389.5L1170,390.9M1117.5,383.9L1129.6,386.2" fill="none" stroke="#000" stroke-width="1.4" stroke-linecap="round"/>
<g font-size="7.6" fill="#000" text-anchor="middle">
<text x="1080.9" y="125.3">N</text>
<text x="1104.9" y="130.6">N</text>
<text x="1110.5" y="156.6">N</text>
<text x="1089.5" y="163.6">N</text>
<text x="1061" y="143.7"><tspan font-size="5" dy="1.5">2</tspan><tspan dy="-1.5">HN</tspan></text>
<text x="1150.8" y="262.6">N</text>
<text x="1172" y="246.7">NH</text>
<text x="1147.8" y="238.1">O</text>
<text x="1191.1" y="256.6">O</text>
<text x="1075.3" y="276.6">HN</text>
<text x="1102.9" y="285.2">N</text>
<text x="1104.5" y="309.6">N</text>
<text x="1083.5" y="314.6">N</text>
<text x="1061.6" y="292.6">O</text>
<text x="1101.5" y="260"><tspan>NH</tspan><tspan font-size="5" dy="1.6">2</tspan></text>
<text x="1133.4" y="389.6">N</text>
<text x="1155.4" y="380.2">N</text>
<text x="1136.2" y="364.6">O</text>
<text x="1178.6" y="394.8"><tspan>NH</tspan><tspan font-size="5" dy="1.6">2</tspan></text>
</g>
<g font-size="22.3" fill="#000" text-anchor="middle">
<text x="1076.9" y="182.2">A</text>
<text x="1184.9" y="230.9">T</text>
<text x="1066.6" y="337.7">G</text>
<text x="1170.8" y="362.7">C</text>
</g>
<text x="855.2" y="35.8" font-size="25" font-weight="bold" fill="#000">c</text>
</g>
</svg>
</body>
</html>
